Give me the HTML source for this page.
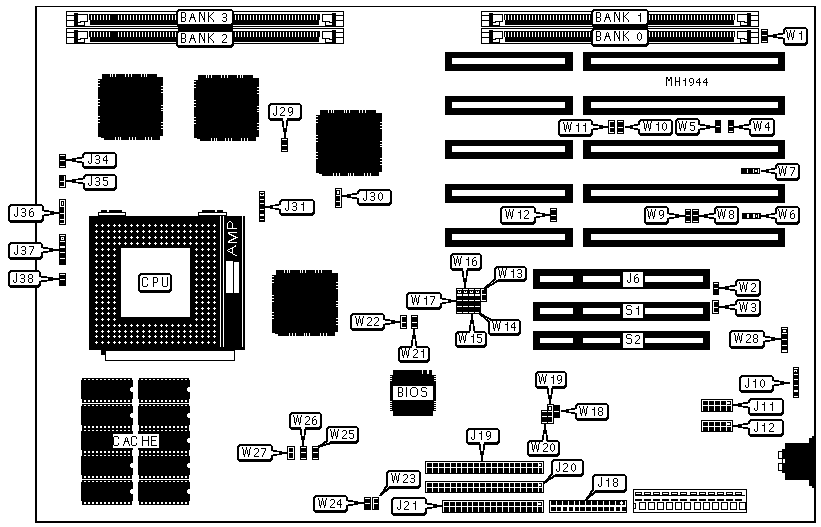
<!DOCTYPE html>
<html><head><meta charset="utf-8"><style>
html,body{margin:0;padding:0;background:#fff;overflow:hidden;font-family:"Liberation Sans", sans-serif;}
svg{display:block;}
</style></head><body>
<svg width="821" height="527" viewBox="0 0 821 527" shape-rendering="crispEdges">
<defs>
<pattern id="simmpins" x="0" y="0" width="3" height="5" patternUnits="userSpaceOnUse">
<rect x="1" y="0" width="1" height="5" fill="#fff"/>
</pattern>
<path id="g65" d="M3 1h1v1h-1zM2 2h1v1h-1zM4 2h1v1h-1zM2 3h1v1h-1zM4 3h1v1h-1zM2 4h1v1h-1zM4 4h1v1h-1zM1 5h5v1h-5zM1 6h1v1h-1zM5 6h1v1h-1zM1 7h1v1h-1zM5 7h1v1h-1zM0 8h1v1h-1zM6 8h1v1h-1zM0 9h1v1h-1zM6 9h1v1h-1z"/>
<path id="g66" d="M0 0h4v1h-4zM0 1h1v1h-1zM4 1h1v1h-1zM0 2h1v1h-1zM4 2h1v1h-1zM0 3h1v1h-1zM4 3h1v1h-1zM0 4h1v1h-1zM4 4h1v1h-1zM0 5h4v1h-4zM0 6h1v1h-1zM4 6h1v1h-1zM0 7h1v1h-1zM4 7h1v1h-1zM0 8h1v1h-1zM4 8h1v1h-1zM0 9h4v1h-4z"/>
<path id="g67" d="M1 0h4v1h-4zM0 1h1v1h-1zM5 1h1v1h-1zM0 2h1v1h-1zM5 2h1v1h-1zM0 3h1v1h-1zM0 4h1v1h-1zM0 5h1v1h-1zM0 6h1v1h-1zM0 7h1v1h-1zM5 7h1v1h-1zM0 8h1v1h-1zM5 8h1v1h-1zM1 9h4v1h-4z"/>
<path id="g69" d="M0 0h6v1h-6zM0 1h1v1h-1zM0 2h1v1h-1zM0 3h1v1h-1zM0 4h5v1h-5zM0 5h1v1h-1zM0 6h1v1h-1zM0 7h1v1h-1zM0 8h1v1h-1zM0 9h6v1h-6z"/>
<path id="g72" d="M0 0h1v1h-1zM6 0h1v1h-1zM0 1h1v1h-1zM6 1h1v1h-1zM0 2h1v1h-1zM6 2h1v1h-1zM0 3h1v1h-1zM6 3h1v1h-1zM0 4h7v1h-7zM0 5h1v1h-1zM6 5h1v1h-1zM0 6h1v1h-1zM6 6h1v1h-1zM0 7h1v1h-1zM6 7h1v1h-1zM0 8h1v1h-1zM6 8h1v1h-1zM0 9h1v1h-1zM6 9h1v1h-1z"/>
<path id="g73" d="M0 0h1v1h-1zM0 1h1v1h-1zM0 2h1v1h-1zM0 3h1v1h-1zM0 4h1v1h-1zM0 5h1v1h-1zM0 6h1v1h-1zM0 7h1v1h-1zM0 8h1v1h-1zM0 9h1v1h-1z"/>
<path id="g74" d="M3 0h1v1h-1zM3 1h1v1h-1zM3 2h1v1h-1zM3 3h1v1h-1zM3 4h1v1h-1zM3 5h1v1h-1zM3 6h1v1h-1zM0 7h1v1h-1zM3 7h1v1h-1zM0 8h1v1h-1zM3 8h1v1h-1zM1 9h2v1h-2z"/>
<path id="g75" d="M0 0h1v1h-1zM5 0h1v1h-1zM0 1h1v1h-1zM4 1h1v1h-1zM0 2h1v1h-1zM3 2h1v1h-1zM0 3h1v1h-1zM2 3h1v1h-1zM0 4h2v1h-2zM0 5h1v1h-1zM2 5h1v1h-1zM0 6h1v1h-1zM3 6h1v1h-1zM0 7h1v1h-1zM4 7h1v1h-1zM0 8h1v1h-1zM5 8h1v1h-1zM0 9h1v1h-1zM5 9h1v1h-1z"/>
<path id="g77" d="M0 0h1v1h-1zM6 0h1v1h-1zM0 1h2v1h-2zM5 1h2v1h-2zM0 2h2v1h-2zM5 2h2v1h-2zM0 3h1v1h-1zM2 3h1v1h-1zM4 3h1v1h-1zM6 3h1v1h-1zM0 4h1v1h-1zM2 4h1v1h-1zM4 4h1v1h-1zM6 4h1v1h-1zM0 5h1v1h-1zM3 5h1v1h-1zM6 5h1v1h-1zM0 6h1v1h-1zM3 6h1v1h-1zM6 6h1v1h-1zM0 7h1v1h-1zM6 7h1v1h-1zM0 8h1v1h-1zM6 8h1v1h-1zM0 9h1v1h-1zM6 9h1v1h-1z"/>
<path id="g78" d="M0 0h2v1h-2zM5 0h1v1h-1zM0 1h2v1h-2zM5 1h1v1h-1zM0 2h1v1h-1zM2 2h1v1h-1zM5 2h1v1h-1zM0 3h1v1h-1zM2 3h1v1h-1zM5 3h1v1h-1zM0 4h1v1h-1zM3 4h1v1h-1zM5 4h1v1h-1zM0 5h1v1h-1zM3 5h1v1h-1zM5 5h1v1h-1zM0 6h1v1h-1zM4 6h2v1h-2zM0 7h1v1h-1zM4 7h2v1h-2zM0 8h1v1h-1zM5 8h1v1h-1zM0 9h1v1h-1zM5 9h1v1h-1z"/>
<path id="g79" d="M2 0h4v1h-4zM1 1h1v1h-1zM6 1h1v1h-1zM0 2h1v1h-1zM7 2h1v1h-1zM0 3h1v1h-1zM7 3h1v1h-1zM0 4h1v1h-1zM7 4h1v1h-1zM0 5h1v1h-1zM7 5h1v1h-1zM0 6h1v1h-1zM7 6h1v1h-1zM0 7h1v1h-1zM7 7h1v1h-1zM1 8h1v1h-1zM6 8h1v1h-1zM2 9h4v1h-4z"/>
<path id="g80" d="M0 0h4v1h-4zM0 1h1v1h-1zM4 1h1v1h-1zM0 2h1v1h-1zM4 2h1v1h-1zM0 3h1v1h-1zM4 3h1v1h-1zM0 4h1v1h-1zM4 4h1v1h-1zM0 5h4v1h-4zM0 6h1v1h-1zM0 7h1v1h-1zM0 8h1v1h-1zM0 9h1v1h-1z"/>
<path id="g83" d="M1 0h4v1h-4zM0 1h1v1h-1zM5 1h1v1h-1zM0 2h1v1h-1zM0 3h1v1h-1zM1 4h4v1h-4zM5 5h1v1h-1zM5 6h1v1h-1zM5 7h1v1h-1zM0 8h1v1h-1zM5 8h1v1h-1zM1 9h4v1h-4z"/>
<path id="g85" d="M0 0h1v1h-1zM5 0h1v1h-1zM0 1h1v1h-1zM5 1h1v1h-1zM0 2h1v1h-1zM5 2h1v1h-1zM0 3h1v1h-1zM5 3h1v1h-1zM0 4h1v1h-1zM5 4h1v1h-1zM0 5h1v1h-1zM5 5h1v1h-1zM0 6h1v1h-1zM5 6h1v1h-1zM0 7h1v1h-1zM5 7h1v1h-1zM0 8h1v1h-1zM5 8h1v1h-1zM1 9h4v1h-4z"/>
<path id="g87" d="M0 0h1v1h-1zM4 0h1v1h-1zM8 0h1v1h-1zM0 1h1v1h-1zM4 1h1v1h-1zM8 1h1v1h-1zM1 2h1v1h-1zM4 2h1v1h-1zM7 2h1v1h-1zM1 3h1v1h-1zM3 3h1v1h-1zM5 3h1v1h-1zM7 3h1v1h-1zM1 4h1v1h-1zM3 4h1v1h-1zM5 4h1v1h-1zM7 4h1v1h-1zM1 5h1v1h-1zM3 5h1v1h-1zM5 5h1v1h-1zM7 5h1v1h-1zM1 6h1v1h-1zM3 6h1v1h-1zM5 6h1v1h-1zM7 6h1v1h-1zM1 7h2v1h-2zM6 7h2v1h-2zM2 8h1v1h-1zM6 8h1v1h-1zM2 9h1v1h-1zM6 9h1v1h-1z"/>
<path id="g109" d="M0 0h2v1h-2zM4 0h2v1h-2zM0 1h2v1h-2zM4 1h2v1h-2zM0 2h1v1h-1zM2 2h2v1h-2zM5 2h1v1h-1zM0 3h1v1h-1zM2 3h2v1h-2zM5 3h1v1h-1zM0 4h1v1h-1zM5 4h1v1h-1zM0 5h1v1h-1zM5 5h1v1h-1zM0 6h1v1h-1zM5 6h1v1h-1zM0 7h1v1h-1zM5 7h1v1h-1zM0 8h1v1h-1zM5 8h1v1h-1zM0 9h1v1h-1zM5 9h1v1h-1z"/>
<path id="g104" d="M0 0h1v1h-1zM4 0h1v1h-1zM0 1h1v1h-1zM4 1h1v1h-1zM0 2h1v1h-1zM4 2h1v1h-1zM0 3h1v1h-1zM4 3h1v1h-1zM0 4h5v1h-5zM0 5h1v1h-1zM4 5h1v1h-1zM0 6h1v1h-1zM4 6h1v1h-1zM0 7h1v1h-1zM4 7h1v1h-1zM0 8h1v1h-1zM4 8h1v1h-1zM0 9h1v1h-1zM4 9h1v1h-1z"/>
<path id="g48" d="M2 1h1v1h-1zM1 2h1v1h-1zM3 2h1v1h-1zM0 3h1v1h-1zM4 3h1v1h-1zM0 4h1v1h-1zM4 4h1v1h-1zM0 5h1v1h-1zM4 5h1v1h-1zM0 6h1v1h-1zM4 6h1v1h-1zM0 7h1v1h-1zM4 7h1v1h-1zM1 8h1v1h-1zM3 8h1v1h-1zM2 9h1v1h-1z"/>
<path id="g49" d="M3 1h1v1h-1zM3 2h1v1h-1zM1 3h3v1h-3zM3 4h1v1h-1zM3 5h1v1h-1zM3 6h1v1h-1zM3 7h1v1h-1zM3 8h1v1h-1zM3 9h1v1h-1z"/>
<path id="g50" d="M1 1h3v1h-3zM0 2h1v1h-1zM4 2h1v1h-1zM4 3h1v1h-1zM4 4h1v1h-1zM3 5h1v1h-1zM2 6h1v1h-1zM1 7h1v1h-1zM0 8h1v1h-1zM0 9h5v1h-5z"/>
<path id="g51" d="M1 1h3v1h-3zM0 2h1v1h-1zM4 2h1v1h-1zM4 3h1v1h-1zM4 4h1v1h-1zM1 5h3v1h-3zM4 6h1v1h-1zM4 7h1v1h-1zM0 8h1v1h-1zM4 8h1v1h-1zM1 9h3v1h-3z"/>
<path id="g52" d="M3 1h1v1h-1zM2 2h2v1h-2zM1 3h1v1h-1zM3 3h1v1h-1zM0 4h1v1h-1zM3 4h1v1h-1zM0 5h1v1h-1zM3 5h1v1h-1zM0 6h5v1h-5zM3 7h1v1h-1zM3 8h1v1h-1zM3 9h1v1h-1z"/>
<path id="g53" d="M0 1h5v1h-5zM0 2h1v1h-1zM0 3h1v1h-1zM0 4h4v1h-4zM4 5h1v1h-1zM4 6h1v1h-1zM4 7h1v1h-1zM0 8h1v1h-1zM4 8h1v1h-1zM1 9h3v1h-3z"/>
<path id="g54" d="M2 1h2v1h-2zM1 2h1v1h-1zM0 3h1v1h-1zM0 4h1v1h-1zM2 4h2v1h-2zM0 5h2v1h-2zM4 5h1v1h-1zM0 6h1v1h-1zM4 6h1v1h-1zM0 7h1v1h-1zM4 7h1v1h-1zM0 8h1v1h-1zM4 8h1v1h-1zM1 9h3v1h-3z"/>
<path id="g55" d="M0 1h5v1h-5zM4 2h1v1h-1zM4 3h1v1h-1zM3 4h1v1h-1zM3 5h1v1h-1zM2 6h1v1h-1zM2 7h1v1h-1zM1 8h1v1h-1zM1 9h1v1h-1z"/>
<path id="g56" d="M1 1h3v1h-3zM0 2h1v1h-1zM4 2h1v1h-1zM0 3h1v1h-1zM4 3h1v1h-1zM0 4h1v1h-1zM4 4h1v1h-1zM1 5h3v1h-3zM0 6h1v1h-1zM4 6h1v1h-1zM0 7h1v1h-1zM4 7h1v1h-1zM0 8h1v1h-1zM4 8h1v1h-1zM1 9h3v1h-3z"/>
<path id="g57" d="M1 1h3v1h-3zM0 2h1v1h-1zM4 2h1v1h-1zM0 3h1v1h-1zM4 3h1v1h-1zM0 4h1v1h-1zM4 4h1v1h-1zM0 5h1v1h-1zM3 5h2v1h-2zM1 6h2v1h-2zM4 6h1v1h-1zM4 7h1v1h-1zM3 8h1v1h-1zM1 9h2v1h-2z"/>
</defs>
<rect width="821" height="527" fill="#fff"/>
<rect x="35" y="6" width="781" height="1"/>
<rect x="35" y="6" width="2" height="517"/>
<rect x="814" y="6" width="2" height="517"/>
<rect x="35" y="521" width="781" height="2"/>
<rect x="66" y="11" width="278" height="16"/>
<rect x="67" y="12" width="276" height="14" fill="#fff"/>
<rect x="67" y="15" width="7" height="1"/>
<rect x="67" y="20" width="7" height="1"/>
<rect x="74" y="13" width="4" height="13"/>
<rect x="78" y="14" width="10" height="1"/>
<rect x="87" y="14" width="1" height="8"/>
<rect x="80" y="21" width="8" height="1"/>
<rect x="80" y="21" width="1" height="2"/>
<rect x="78" y="22" width="3" height="1"/>
<rect x="84" y="21" width="1" height="5"/>
<rect x="78" y="25" width="7" height="1"/>
<rect x="89" y="14" width="231" height="6"/>
<rect x="90" y="20" width="229" height="5"/>
<rect x="90" y="15" width="229" height="5" fill="url(#simmpins)"/>
<rect x="322" y="14" width="10" height="1"/>
<rect x="322" y="14" width="1" height="8"/>
<rect x="322" y="21" width="8" height="1"/>
<rect x="329" y="21" width="1" height="2"/>
<rect x="329" y="22" width="3" height="1"/>
<rect x="325" y="21" width="1" height="5"/>
<rect x="325" y="25" width="7" height="1"/>
<rect x="332" y="13" width="4" height="13"/>
<rect x="336" y="15" width="7" height="1"/>
<rect x="336" y="20" width="7" height="1"/>
<rect x="66" y="28" width="278" height="16"/>
<rect x="67" y="29" width="276" height="14" fill="#fff"/>
<rect x="67" y="32" width="7" height="1"/>
<rect x="67" y="37" width="7" height="1"/>
<rect x="74" y="30" width="4" height="13"/>
<rect x="78" y="31" width="10" height="1"/>
<rect x="87" y="31" width="1" height="8"/>
<rect x="80" y="38" width="8" height="1"/>
<rect x="80" y="38" width="1" height="2"/>
<rect x="78" y="39" width="3" height="1"/>
<rect x="84" y="38" width="1" height="5"/>
<rect x="78" y="42" width="7" height="1"/>
<rect x="89" y="31" width="231" height="6"/>
<rect x="90" y="37" width="229" height="5"/>
<rect x="90" y="32" width="229" height="5" fill="url(#simmpins)"/>
<rect x="322" y="31" width="10" height="1"/>
<rect x="322" y="31" width="1" height="8"/>
<rect x="322" y="38" width="8" height="1"/>
<rect x="329" y="38" width="1" height="2"/>
<rect x="329" y="39" width="3" height="1"/>
<rect x="325" y="38" width="1" height="5"/>
<rect x="325" y="42" width="7" height="1"/>
<rect x="332" y="30" width="4" height="13"/>
<rect x="336" y="32" width="7" height="1"/>
<rect x="336" y="37" width="7" height="1"/>
<rect x="112" y="15" width="4" height="5"/>
<rect x="112" y="32" width="4" height="5"/>
<rect x="481" y="11" width="278" height="16"/>
<rect x="482" y="12" width="276" height="14" fill="#fff"/>
<rect x="482" y="15" width="7" height="1"/>
<rect x="482" y="20" width="7" height="1"/>
<rect x="489" y="13" width="4" height="13"/>
<rect x="493" y="14" width="10" height="1"/>
<rect x="502" y="14" width="1" height="8"/>
<rect x="495" y="21" width="8" height="1"/>
<rect x="495" y="21" width="1" height="2"/>
<rect x="493" y="22" width="3" height="1"/>
<rect x="499" y="21" width="1" height="5"/>
<rect x="493" y="25" width="7" height="1"/>
<rect x="504" y="14" width="231" height="6"/>
<rect x="505" y="20" width="229" height="5"/>
<rect x="505" y="15" width="229" height="5" fill="url(#simmpins)"/>
<rect x="737" y="14" width="10" height="1"/>
<rect x="737" y="14" width="1" height="8"/>
<rect x="737" y="21" width="8" height="1"/>
<rect x="744" y="21" width="1" height="2"/>
<rect x="744" y="22" width="3" height="1"/>
<rect x="740" y="21" width="1" height="5"/>
<rect x="740" y="25" width="7" height="1"/>
<rect x="747" y="13" width="4" height="13"/>
<rect x="751" y="15" width="7" height="1"/>
<rect x="751" y="20" width="7" height="1"/>
<rect x="481" y="28" width="278" height="16"/>
<rect x="482" y="29" width="276" height="14" fill="#fff"/>
<rect x="482" y="32" width="7" height="1"/>
<rect x="482" y="37" width="7" height="1"/>
<rect x="489" y="30" width="4" height="13"/>
<rect x="493" y="31" width="10" height="1"/>
<rect x="502" y="31" width="1" height="8"/>
<rect x="495" y="38" width="8" height="1"/>
<rect x="495" y="38" width="1" height="2"/>
<rect x="493" y="39" width="3" height="1"/>
<rect x="499" y="38" width="1" height="5"/>
<rect x="493" y="42" width="7" height="1"/>
<rect x="504" y="31" width="231" height="6"/>
<rect x="505" y="37" width="229" height="5"/>
<rect x="505" y="32" width="229" height="5" fill="url(#simmpins)"/>
<rect x="737" y="31" width="10" height="1"/>
<rect x="737" y="31" width="1" height="8"/>
<rect x="737" y="38" width="8" height="1"/>
<rect x="744" y="38" width="1" height="2"/>
<rect x="744" y="39" width="3" height="1"/>
<rect x="740" y="38" width="1" height="5"/>
<rect x="740" y="42" width="7" height="1"/>
<rect x="747" y="30" width="4" height="13"/>
<rect x="751" y="32" width="7" height="1"/>
<rect x="751" y="37" width="7" height="1"/>
<rect x="178" y="24" width="55" height="8"/>
<rect x="176" y="9" width="58" height="18" rx="4"/>
<rect x="178" y="11" width="54" height="13" rx="2" fill="#fff"/>
<use href="#g66" x="181" y="12"/><use href="#g65" x="189" y="12"/><use href="#g78" x="199" y="12"/><use href="#g75" x="208" y="12"/><use href="#g51" x="222" y="12"/>
<rect x="176" y="30" width="58" height="18" rx="4"/>
<rect x="178" y="32" width="54" height="13" rx="2" fill="#fff"/>
<use href="#g66" x="181" y="33"/><use href="#g65" x="189" y="33"/><use href="#g78" x="199" y="33"/><use href="#g75" x="208" y="33"/><use href="#g50" x="222" y="33"/>
<rect x="593" y="24" width="55" height="8"/>
<rect x="591" y="9" width="58" height="18" rx="4"/>
<rect x="593" y="11" width="54" height="13" rx="2" fill="#fff"/>
<use href="#g66" x="596" y="12"/><use href="#g65" x="604" y="12"/><use href="#g78" x="614" y="12"/><use href="#g75" x="623" y="12"/><use href="#g49" x="637" y="12"/>
<rect x="591" y="28" width="58" height="19" rx="4"/>
<rect x="593" y="30" width="54" height="14" rx="2" fill="#fff"/>
<use href="#g66" x="596" y="31"/><use href="#g65" x="604" y="31"/><use href="#g78" x="614" y="31"/><use href="#g75" x="623" y="31"/><use href="#g48" x="637" y="31"/>
<rect x="761" y="29" width="7" height="14"/>
<rect x="762" y="30" width="5" height="1" fill="#fff"/>
<rect x="762" y="35" width="5" height="1" fill="#fff"/>
<rect x="762" y="41" width="5" height="1" fill="#fff"/>
<rect x="783" y="27" width="25" height="19" rx="4"/>
<polygon points="786,32.5 783,32.5 771,35 768,35 768,37 771,37 783,39.5 786,39.5"/>
<rect x="785" y="29" width="21" height="14" rx="2" fill="#fff"/>
<polygon points="786,34 774,36 786,38" fill="#fff"/>
<use href="#g87" x="786" y="30"/><use href="#g49" x="798" y="30"/>
<rect x="98" y="79" width="65" height="57"/>
<rect x="102" y="74" width="55" height="5"/>
<rect x="102" y="77" width="61" height="2"/>
<rect x="101" y="136" width="59" height="2"/>
<rect x="104" y="138" width="56" height="2"/>
<rect x="98" y="136" width="3" height="1"/>
<rect x="110" y="74" width="1" height="3" fill="#fff"/>
<rect x="112" y="74" width="1" height="3" fill="#fff"/>
<rect x="115" y="74" width="1" height="3" fill="#fff"/>
<rect x="125" y="74" width="1" height="3" fill="#fff"/>
<rect x="128" y="74" width="1" height="3" fill="#fff"/>
<rect x="131" y="74" width="1" height="3" fill="#fff"/>
<rect x="141" y="74" width="1" height="3" fill="#fff"/>
<rect x="144" y="74" width="1" height="3" fill="#fff"/>
<rect x="146" y="74" width="1" height="3" fill="#fff"/>
<rect x="115" y="137" width="1" height="3" fill="#fff"/>
<rect x="118" y="137" width="1" height="3" fill="#fff"/>
<rect x="120" y="137" width="1" height="3" fill="#fff"/>
<rect x="129" y="137" width="1" height="3" fill="#fff"/>
<rect x="132" y="137" width="1" height="3" fill="#fff"/>
<rect x="135" y="137" width="1" height="3" fill="#fff"/>
<rect x="145" y="137" width="1" height="3" fill="#fff"/>
<rect x="148" y="137" width="1" height="3" fill="#fff"/>
<rect x="151" y="137" width="1" height="3" fill="#fff"/>
<rect x="98" y="80" width="2" height="1" fill="#fff"/>
<rect x="98" y="83" width="2" height="1" fill="#fff"/>
<rect x="98" y="86" width="2" height="1" fill="#fff"/>
<rect x="98" y="99" width="2" height="1" fill="#fff"/>
<rect x="98" y="102" width="2" height="1" fill="#fff"/>
<rect x="98" y="105" width="2" height="1" fill="#fff"/>
<rect x="98" y="116" width="2" height="1" fill="#fff"/>
<rect x="98" y="119" width="2" height="1" fill="#fff"/>
<rect x="98" y="122" width="2" height="1" fill="#fff"/>
<rect x="161" y="86" width="2" height="1" fill="#fff"/>
<rect x="161" y="89" width="2" height="1" fill="#fff"/>
<rect x="161" y="92" width="2" height="1" fill="#fff"/>
<rect x="161" y="105" width="2" height="1" fill="#fff"/>
<rect x="161" y="108" width="2" height="1" fill="#fff"/>
<rect x="161" y="110" width="2" height="1" fill="#fff"/>
<rect x="161" y="122" width="2" height="1" fill="#fff"/>
<rect x="161" y="125" width="2" height="1" fill="#fff"/>
<rect x="161" y="128" width="2" height="1" fill="#fff"/>
<rect x="194" y="80" width="65" height="57"/>
<rect x="198" y="75" width="55" height="5"/>
<rect x="198" y="78" width="61" height="2"/>
<rect x="197" y="137" width="59" height="2"/>
<rect x="200" y="139" width="56" height="2"/>
<rect x="194" y="137" width="3" height="1"/>
<rect x="206" y="75" width="1" height="3" fill="#fff"/>
<rect x="208" y="75" width="1" height="3" fill="#fff"/>
<rect x="211" y="75" width="1" height="3" fill="#fff"/>
<rect x="221" y="75" width="1" height="3" fill="#fff"/>
<rect x="224" y="75" width="1" height="3" fill="#fff"/>
<rect x="227" y="75" width="1" height="3" fill="#fff"/>
<rect x="237" y="75" width="1" height="3" fill="#fff"/>
<rect x="240" y="75" width="1" height="3" fill="#fff"/>
<rect x="242" y="75" width="1" height="3" fill="#fff"/>
<rect x="211" y="138" width="1" height="3" fill="#fff"/>
<rect x="214" y="138" width="1" height="3" fill="#fff"/>
<rect x="216" y="138" width="1" height="3" fill="#fff"/>
<rect x="225" y="138" width="1" height="3" fill="#fff"/>
<rect x="228" y="138" width="1" height="3" fill="#fff"/>
<rect x="231" y="138" width="1" height="3" fill="#fff"/>
<rect x="241" y="138" width="1" height="3" fill="#fff"/>
<rect x="244" y="138" width="1" height="3" fill="#fff"/>
<rect x="247" y="138" width="1" height="3" fill="#fff"/>
<rect x="194" y="81" width="2" height="1" fill="#fff"/>
<rect x="194" y="84" width="2" height="1" fill="#fff"/>
<rect x="194" y="87" width="2" height="1" fill="#fff"/>
<rect x="194" y="100" width="2" height="1" fill="#fff"/>
<rect x="194" y="103" width="2" height="1" fill="#fff"/>
<rect x="194" y="106" width="2" height="1" fill="#fff"/>
<rect x="194" y="117" width="2" height="1" fill="#fff"/>
<rect x="194" y="120" width="2" height="1" fill="#fff"/>
<rect x="194" y="123" width="2" height="1" fill="#fff"/>
<rect x="257" y="87" width="2" height="1" fill="#fff"/>
<rect x="257" y="90" width="2" height="1" fill="#fff"/>
<rect x="257" y="93" width="2" height="1" fill="#fff"/>
<rect x="257" y="106" width="2" height="1" fill="#fff"/>
<rect x="257" y="109" width="2" height="1" fill="#fff"/>
<rect x="257" y="111" width="2" height="1" fill="#fff"/>
<rect x="257" y="123" width="2" height="1" fill="#fff"/>
<rect x="257" y="126" width="2" height="1" fill="#fff"/>
<rect x="257" y="129" width="2" height="1" fill="#fff"/>
<rect x="316" y="115" width="66" height="57"/>
<rect x="320" y="110" width="56" height="5"/>
<rect x="320" y="113" width="62" height="2"/>
<rect x="319" y="172" width="60" height="2"/>
<rect x="322" y="174" width="57" height="2"/>
<rect x="316" y="172" width="3" height="1"/>
<rect x="328" y="110" width="1" height="3" fill="#fff"/>
<rect x="331" y="110" width="1" height="3" fill="#fff"/>
<rect x="333" y="110" width="1" height="3" fill="#fff"/>
<rect x="344" y="110" width="1" height="3" fill="#fff"/>
<rect x="346" y="110" width="1" height="3" fill="#fff"/>
<rect x="349" y="110" width="1" height="3" fill="#fff"/>
<rect x="359" y="110" width="1" height="3" fill="#fff"/>
<rect x="362" y="110" width="1" height="3" fill="#fff"/>
<rect x="365" y="110" width="1" height="3" fill="#fff"/>
<rect x="333" y="173" width="1" height="3" fill="#fff"/>
<rect x="336" y="173" width="1" height="3" fill="#fff"/>
<rect x="339" y="173" width="1" height="3" fill="#fff"/>
<rect x="348" y="173" width="1" height="3" fill="#fff"/>
<rect x="350" y="173" width="1" height="3" fill="#fff"/>
<rect x="353" y="173" width="1" height="3" fill="#fff"/>
<rect x="364" y="173" width="1" height="3" fill="#fff"/>
<rect x="367" y="173" width="1" height="3" fill="#fff"/>
<rect x="370" y="173" width="1" height="3" fill="#fff"/>
<rect x="316" y="116" width="2" height="1" fill="#fff"/>
<rect x="316" y="119" width="2" height="1" fill="#fff"/>
<rect x="316" y="122" width="2" height="1" fill="#fff"/>
<rect x="316" y="135" width="2" height="1" fill="#fff"/>
<rect x="316" y="138" width="2" height="1" fill="#fff"/>
<rect x="316" y="141" width="2" height="1" fill="#fff"/>
<rect x="316" y="152" width="2" height="1" fill="#fff"/>
<rect x="316" y="155" width="2" height="1" fill="#fff"/>
<rect x="316" y="158" width="2" height="1" fill="#fff"/>
<rect x="380" y="122" width="2" height="1" fill="#fff"/>
<rect x="380" y="125" width="2" height="1" fill="#fff"/>
<rect x="380" y="128" width="2" height="1" fill="#fff"/>
<rect x="380" y="141" width="2" height="1" fill="#fff"/>
<rect x="380" y="144" width="2" height="1" fill="#fff"/>
<rect x="380" y="146" width="2" height="1" fill="#fff"/>
<rect x="380" y="158" width="2" height="1" fill="#fff"/>
<rect x="380" y="161" width="2" height="1" fill="#fff"/>
<rect x="380" y="164" width="2" height="1" fill="#fff"/>
<rect x="272" y="275" width="66" height="57"/>
<rect x="276" y="270" width="56" height="5"/>
<rect x="276" y="273" width="62" height="2"/>
<rect x="275" y="332" width="60" height="2"/>
<rect x="278" y="334" width="57" height="2"/>
<rect x="272" y="332" width="3" height="1"/>
<rect x="284" y="270" width="1" height="3" fill="#fff"/>
<rect x="287" y="270" width="1" height="3" fill="#fff"/>
<rect x="289" y="270" width="1" height="3" fill="#fff"/>
<rect x="300" y="270" width="1" height="3" fill="#fff"/>
<rect x="302" y="270" width="1" height="3" fill="#fff"/>
<rect x="305" y="270" width="1" height="3" fill="#fff"/>
<rect x="315" y="270" width="1" height="3" fill="#fff"/>
<rect x="318" y="270" width="1" height="3" fill="#fff"/>
<rect x="321" y="270" width="1" height="3" fill="#fff"/>
<rect x="289" y="333" width="1" height="3" fill="#fff"/>
<rect x="292" y="333" width="1" height="3" fill="#fff"/>
<rect x="295" y="333" width="1" height="3" fill="#fff"/>
<rect x="304" y="333" width="1" height="3" fill="#fff"/>
<rect x="306" y="333" width="1" height="3" fill="#fff"/>
<rect x="309" y="333" width="1" height="3" fill="#fff"/>
<rect x="320" y="333" width="1" height="3" fill="#fff"/>
<rect x="323" y="333" width="1" height="3" fill="#fff"/>
<rect x="326" y="333" width="1" height="3" fill="#fff"/>
<rect x="272" y="276" width="2" height="1" fill="#fff"/>
<rect x="272" y="279" width="2" height="1" fill="#fff"/>
<rect x="272" y="282" width="2" height="1" fill="#fff"/>
<rect x="272" y="295" width="2" height="1" fill="#fff"/>
<rect x="272" y="298" width="2" height="1" fill="#fff"/>
<rect x="272" y="301" width="2" height="1" fill="#fff"/>
<rect x="272" y="312" width="2" height="1" fill="#fff"/>
<rect x="272" y="315" width="2" height="1" fill="#fff"/>
<rect x="272" y="318" width="2" height="1" fill="#fff"/>
<rect x="336" y="282" width="2" height="1" fill="#fff"/>
<rect x="336" y="285" width="2" height="1" fill="#fff"/>
<rect x="336" y="288" width="2" height="1" fill="#fff"/>
<rect x="336" y="301" width="2" height="1" fill="#fff"/>
<rect x="336" y="304" width="2" height="1" fill="#fff"/>
<rect x="336" y="306" width="2" height="1" fill="#fff"/>
<rect x="336" y="318" width="2" height="1" fill="#fff"/>
<rect x="336" y="321" width="2" height="1" fill="#fff"/>
<rect x="336" y="324" width="2" height="1" fill="#fff"/>
<rect x="445" y="52" width="128" height="19"/>
<rect x="452" y="58" width="113" height="6" fill="#fff"/>
<rect x="583" y="52" width="202" height="19"/>
<rect x="591" y="58" width="187" height="6" fill="#fff"/>
<rect x="445" y="96" width="128" height="19"/>
<rect x="452" y="102" width="113" height="6" fill="#fff"/>
<rect x="583" y="96" width="202" height="19"/>
<rect x="591" y="102" width="187" height="6" fill="#fff"/>
<rect x="445" y="140" width="128" height="19"/>
<rect x="452" y="146" width="113" height="6" fill="#fff"/>
<rect x="583" y="140" width="202" height="19"/>
<rect x="591" y="146" width="187" height="6" fill="#fff"/>
<rect x="445" y="184" width="128" height="19"/>
<rect x="452" y="190" width="113" height="6" fill="#fff"/>
<rect x="583" y="184" width="202" height="19"/>
<rect x="591" y="190" width="187" height="6" fill="#fff"/>
<rect x="445" y="228" width="128" height="19"/>
<rect x="452" y="234" width="113" height="6" fill="#fff"/>
<rect x="583" y="228" width="202" height="19"/>
<rect x="591" y="234" width="187" height="6" fill="#fff"/>
<g transform="translate(0,77) scale(1,0.9)"><use href="#g109" x="666" y="0"/><use href="#g104" x="675" y="0"/><use href="#g49" x="682" y="0"/><use href="#g57" x="689" y="0"/><use href="#g52" x="696" y="0"/><use href="#g52" x="703" y="0"/></g>
<rect x="608" y="120" width="7" height="14"/>
<rect x="609" y="121" width="1" height="12" fill="#fff"/>
<rect x="609" y="121" width="5" height="1" fill="#fff"/>
<rect x="609" y="127" width="5" height="1" fill="#fff"/>
<rect x="609" y="132" width="5" height="1" fill="#fff"/>
<rect x="617" y="120" width="7" height="14"/>
<rect x="618" y="121" width="5" height="1" fill="#fff"/>
<rect x="618" y="127" width="5" height="1" fill="#fff"/>
<rect x="618" y="132" width="5" height="1" fill="#fff"/>
<rect x="558" y="119" width="35" height="18" rx="4"/>
<polygon points="590,123.5 593,123.5 605,126 608,126 608,128 605,128 593,130.5 590,130.5"/>
<rect x="560" y="121" width="31" height="13" rx="2" fill="#fff"/>
<polygon points="590,125 602,127 590,129" fill="#fff"/>
<use href="#g87" x="563" y="122"/><use href="#g49" x="575" y="122"/><use href="#g49" x="582" y="122"/>
<rect x="638" y="119" width="35" height="17" rx="4"/>
<polygon points="641,123.5 638,123.5 627.6,126 625,126 625,128 627.6,128 638,130.5 641,130.5"/>
<rect x="640" y="121" width="31" height="12" rx="2" fill="#fff"/>
<polygon points="641,125 630.2,127 641,129" fill="#fff"/>
<use href="#g87" x="643" y="121"/><use href="#g49" x="655" y="121"/><use href="#g48" x="662" y="121"/>
<rect x="675" y="118" width="25" height="18" rx="4"/>
<polygon points="697,123.5 700,123.5 712,126 715,126 715,128 712,128 700,130.5 697,130.5"/>
<rect x="677" y="120" width="21" height="13" rx="2" fill="#fff"/>
<polygon points="697,125 709,127 697,129" fill="#fff"/>
<use href="#g87" x="678" y="121"/><use href="#g53" x="690" y="121"/>
<rect x="715" y="120" width="6" height="13"/>
<rect x="716" y="126" width="4" height="1" fill="#fff"/>
<rect x="728" y="120" width="6" height="13"/>
<rect x="729" y="126" width="4" height="1" fill="#fff"/>
<rect x="729" y="131" width="4" height="1" fill="#fff"/>
<rect x="749" y="118" width="26" height="19" rx="4"/>
<polygon points="752,123.5 749,123.5 737,126 734,126 734,128 737,128 749,130.5 752,130.5"/>
<rect x="751" y="120" width="22" height="14" rx="2" fill="#fff"/>
<polygon points="752,125 740,127 752,129" fill="#fff"/>
<use href="#g87" x="753" y="121"/><use href="#g52" x="765" y="121"/>
<rect x="741" y="168" width="19" height="6"/>
<rect x="747" y="169" width="1" height="4" fill="#fff"/>
<rect x="753" y="169" width="1" height="4" fill="#fff"/>
<rect x="758" y="169" width="1" height="4" fill="#fff"/>
<rect x="755" y="170" width="2" height="2" fill="#fff"/>
<rect x="775" y="163" width="25" height="18" rx="4"/>
<polygon points="778,167.5 775,167.5 763.8,170 761,170 761,172 763.8,172 775,174.5 778,174.5"/>
<rect x="777" y="165" width="21" height="13" rx="2" fill="#fff"/>
<polygon points="778,169 766.6,171 778,173" fill="#fff"/>
<use href="#g87" x="778" y="166"/><use href="#g55" x="790" y="166"/>
<rect x="550" y="208" width="7" height="14"/>
<rect x="551" y="209" width="5" height="1" fill="#fff"/>
<rect x="551" y="215" width="5" height="1" fill="#fff"/>
<rect x="551" y="220" width="5" height="1" fill="#fff"/>
<rect x="500" y="206" width="36" height="19" rx="4"/>
<polygon points="533,211.5 536,211.5 547.2,214 550,214 550,216 547.2,216 536,218.5 533,218.5"/>
<rect x="502" y="208" width="32" height="14" rx="2" fill="#fff"/>
<polygon points="533,213 544.4,215 533,217" fill="#fff"/>
<use href="#g87" x="505" y="209"/><use href="#g49" x="517" y="209"/><use href="#g50" x="524" y="209"/>
<rect x="685" y="209" width="6" height="14"/>
<rect x="686" y="210" width="4" height="1" fill="#fff"/>
<rect x="686" y="215" width="4" height="1" fill="#fff"/>
<rect x="686" y="221" width="4" height="1" fill="#fff"/>
<rect x="692" y="209" width="7" height="14"/>
<rect x="693" y="210" width="5" height="1" fill="#fff"/>
<rect x="693" y="215" width="5" height="1" fill="#fff"/>
<rect x="693" y="221" width="5" height="1" fill="#fff"/>
<rect x="644" y="206" width="25" height="19" rx="4"/>
<polygon points="666,212.5 669,212.5 681.8,215 685,215 685,217 681.8,217 669,219.5 666,219.5"/>
<rect x="646" y="208" width="21" height="14" rx="2" fill="#fff"/>
<polygon points="666,214 678.6,216 666,218" fill="#fff"/>
<use href="#g87" x="647" y="209"/><use href="#g57" x="659" y="209"/>
<rect x="714" y="206" width="25" height="19" rx="4"/>
<polygon points="717,212.5 714,212.5 702,215 699,215 699,217 702,217 714,219.5 717,219.5"/>
<rect x="716" y="208" width="21" height="14" rx="2" fill="#fff"/>
<polygon points="717,214 705,216 717,218" fill="#fff"/>
<use href="#g87" x="717" y="209"/><use href="#g56" x="729" y="209"/>
<rect x="742" y="213" width="19" height="6"/>
<rect x="747" y="214" width="2" height="4" fill="#fff"/>
<rect x="753" y="214" width="2" height="4" fill="#fff"/>
<rect x="758" y="214" width="1" height="4" fill="#fff"/>
<rect x="756" y="215" width="1" height="2" fill="#fff"/>
<rect x="775" y="206" width="25" height="19" rx="4"/>
<polygon points="778,212.5 775,212.5 763.8,215 761,215 761,217 763.8,217 775,219.5 778,219.5"/>
<rect x="777" y="208" width="21" height="14" rx="2" fill="#fff"/>
<polygon points="778,214 766.6,216 778,218" fill="#fff"/>
<use href="#g87" x="778" y="209"/><use href="#g54" x="790" y="209"/>
<rect x="533" y="269" width="177" height="20"/>
<rect x="540" y="276" width="33" height="6" fill="#fff"/>
<rect x="583" y="276" width="37" height="6" fill="#fff"/>
<rect x="645" y="276" width="58" height="6" fill="#fff"/>
<rect x="623" y="272" width="20" height="15" rx="1.5" fill="#fff"/>
<use href="#g74" x="627" y="273"/><use href="#g54" x="634" y="273"/>
<rect x="533" y="302" width="177" height="19"/>
<rect x="540" y="308" width="33" height="6" fill="#fff"/>
<rect x="583" y="308" width="37" height="6" fill="#fff"/>
<rect x="645" y="308" width="58" height="6" fill="#fff"/>
<rect x="623" y="304" width="20" height="14" rx="1.5" fill="#fff"/>
<use href="#g83" x="626" y="305"/><use href="#g49" x="635" y="305"/>
<rect x="533" y="331" width="177" height="19"/>
<rect x="540" y="338" width="33" height="5" fill="#fff"/>
<rect x="583" y="338" width="37" height="5" fill="#fff"/>
<rect x="645" y="338" width="58" height="5" fill="#fff"/>
<rect x="623" y="333" width="20" height="15" rx="1.5" fill="#fff"/>
<use href="#g83" x="626" y="334"/><use href="#g50" x="635" y="334"/>
<rect x="713" y="282" width="6" height="13"/>
<rect x="714" y="283" width="4" height="1" fill="#fff"/>
<rect x="714" y="288" width="4" height="1" fill="#fff"/>
<rect x="735" y="279" width="26" height="18" rx="4"/>
<polygon points="738,284.5 735,284.5 722.2,287 719,287 719,289 722.2,289 735,291.5 738,291.5"/>
<rect x="737" y="281" width="22" height="13" rx="2" fill="#fff"/>
<polygon points="738,286 725.4,288 738,290" fill="#fff"/>
<use href="#g87" x="739" y="282"/><use href="#g50" x="751" y="282"/>
<rect x="712" y="300" width="7" height="14"/>
<rect x="713" y="301" width="1" height="12" fill="#fff"/>
<rect x="713" y="301" width="5" height="1" fill="#fff"/>
<rect x="713" y="307" width="5" height="1" fill="#fff"/>
<rect x="713" y="312" width="5" height="1" fill="#fff"/>
<rect x="735" y="299" width="26" height="18" rx="4"/>
<polygon points="738,303.5 735,303.5 722.2,306 719,306 719,308 722.2,308 735,310.5 738,310.5"/>
<rect x="737" y="301" width="22" height="13" rx="2" fill="#fff"/>
<polygon points="738,305 725.4,307 738,309" fill="#fff"/>
<use href="#g87" x="739" y="302"/><use href="#g51" x="751" y="302"/>
<rect x="781" y="327" width="7" height="26"/>
<rect x="782" y="328" width="5" height="1" fill="#fff"/>
<rect x="782" y="333" width="5" height="1" fill="#fff"/>
<rect x="782" y="339" width="5" height="1" fill="#fff"/>
<rect x="782" y="345" width="5" height="1" fill="#fff"/>
<rect x="782" y="350" width="5" height="1" fill="#fff"/>
<rect x="782" y="351" width="5" height="1" fill="#fff"/>
<rect x="783" y="330" width="3" height="2" fill="#fff"/>
<rect x="729" y="330" width="36" height="19" rx="4"/>
<polygon points="762,335.5 765,335.5 777.8,338 781,338 781,340 777.8,340 765,342.5 762,342.5"/>
<rect x="731" y="332" width="32" height="14" rx="2" fill="#fff"/>
<polygon points="762,337 774.6,339 762,341" fill="#fff"/>
<use href="#g87" x="734" y="333"/><use href="#g50" x="746" y="333"/><use href="#g56" x="753" y="333"/>
<rect x="793" y="367" width="6" height="31"/>
<rect x="794" y="368" width="4" height="1" fill="#fff"/>
<rect x="794" y="374" width="4" height="1" fill="#fff"/>
<rect x="794" y="379" width="4" height="1" fill="#fff"/>
<rect x="794" y="385" width="4" height="1" fill="#fff"/>
<rect x="794" y="390" width="4" height="1" fill="#fff"/>
<rect x="794" y="391" width="4" height="1" fill="#fff"/>
<rect x="794" y="396" width="4" height="1" fill="#fff"/>
<rect x="794" y="370" width="3" height="2" fill="#fff"/>
<rect x="795" y="371" width="1" height="1"/>
<rect x="739" y="375" width="35" height="18" rx="4"/>
<polygon points="771,379.5 774,379.5 786.8,382 790,382 790,384 786.8,384 774,386.5 771,386.5"/>
<rect x="741" y="377" width="31" height="13" rx="2" fill="#fff"/>
<polygon points="771,381 783.6,383 771,385" fill="#fff"/>
<use href="#g74" x="745" y="378"/><use href="#g49" x="752" y="378"/><use href="#g48" x="760" y="378"/>
<rect x="701" y="399" width="32" height="13"/>
<rect x="702" y="400" width="30" height="11" fill="#fff"/>
<rect x="703" y="401" width="28" height="10"/>
<rect x="703" y="405" width="28" height="1" fill="#fff"/>
<rect x="708" y="401" width="1" height="10" fill="#fff"/>
<rect x="714" y="401" width="1" height="10" fill="#fff"/>
<rect x="720" y="401" width="1" height="10" fill="#fff"/>
<rect x="726" y="401" width="1" height="10" fill="#fff"/>
<rect x="727" y="402" width="3" height="2" fill="#fff"/>
<rect x="748" y="398" width="36" height="18" rx="4"/>
<polygon points="751,401.5 748,401.5 736,404 733,404 733,406 736,406 748,408.5 751,408.5"/>
<rect x="750" y="400" width="32" height="13" rx="2" fill="#fff"/>
<polygon points="751,403 739,405 751,407" fill="#fff"/>
<use href="#g74" x="754" y="401"/><use href="#g49" x="761" y="401"/><use href="#g49" x="769" y="401"/>
<rect x="701" y="420" width="32" height="12"/>
<rect x="702" y="421" width="30" height="10" fill="#fff"/>
<rect x="703" y="422" width="28" height="9"/>
<rect x="703" y="426" width="28" height="1" fill="#fff"/>
<rect x="708" y="422" width="1" height="9" fill="#fff"/>
<rect x="714" y="422" width="1" height="9" fill="#fff"/>
<rect x="720" y="422" width="1" height="9" fill="#fff"/>
<rect x="726" y="422" width="1" height="9" fill="#fff"/>
<rect x="727" y="423" width="3" height="2" fill="#fff"/>
<rect x="748" y="419" width="36" height="18" rx="4"/>
<polygon points="751,422.5 748,422.5 736,425 733,425 733,427 736,427 748,429.5 751,429.5"/>
<rect x="750" y="421" width="32" height="13" rx="2" fill="#fff"/>
<polygon points="751,424 739,426 751,428" fill="#fff"/>
<use href="#g74" x="754" y="422"/><use href="#g49" x="761" y="422"/><use href="#g50" x="769" y="422"/>
<rect x="785" y="443" width="29" height="37"/>
<rect x="812" y="436" width="2" height="2"/>
<rect x="809" y="438" width="5" height="48"/>
<rect x="812" y="486" width="2" height="2"/>
<rect x="782" y="449" width="3" height="24"/>
<rect x="783" y="459" width="2" height="4" fill="#fff"/>
<rect x="778" y="451" width="5" height="8"/>
<rect x="779" y="452" width="3" height="6" fill="#fff"/>
<rect x="778" y="463" width="5" height="8"/>
<rect x="779" y="464" width="3" height="6" fill="#fff"/>
<rect x="59" y="154" width="7" height="14"/>
<rect x="60" y="155" width="5" height="1" fill="#fff"/>
<rect x="60" y="160" width="5" height="1" fill="#fff"/>
<rect x="60" y="166" width="5" height="1" fill="#fff"/>
<rect x="82" y="152" width="35" height="17" rx="4"/>
<polygon points="85,156.5 82,156.5 69.2,159 66,159 66,161 69.2,161 82,163.5 85,163.5"/>
<rect x="84" y="154" width="31" height="12" rx="2" fill="#fff"/>
<polygon points="85,158 72.4,160 85,162" fill="#fff"/>
<use href="#g74" x="88" y="154"/><use href="#g51" x="95" y="154"/><use href="#g52" x="103" y="154"/>
<rect x="59" y="175" width="7" height="13"/>
<rect x="64" y="176" width="1" height="11" fill="#fff"/>
<rect x="60" y="181" width="4" height="1" fill="#fff"/>
<rect x="60" y="186" width="5" height="1" fill="#fff"/>
<rect x="83" y="174" width="34" height="17" rx="4"/>
<polygon points="86,177.5 83,177.5 69.4,180 66,180 66,182 69.4,182 83,184.5 86,184.5"/>
<rect x="85" y="176" width="30" height="12" rx="2" fill="#fff"/>
<polygon points="86,179 72.8,181 86,183" fill="#fff"/>
<use href="#g74" x="88" y="176"/><use href="#g51" x="95" y="176"/><use href="#g53" x="103" y="176"/>
<rect x="59" y="199" width="7" height="26"/>
<rect x="64" y="200" width="1" height="24" fill="#fff"/>
<rect x="60" y="200" width="5" height="1" fill="#fff"/>
<rect x="60" y="206" width="5" height="1" fill="#fff"/>
<rect x="60" y="213" width="5" height="1" fill="#fff"/>
<rect x="60" y="219" width="5" height="1" fill="#fff"/>
<rect x="60" y="223" width="5" height="1" fill="#fff"/>
<rect x="60" y="200" width="1" height="6" fill="#fff"/>
<rect x="62" y="202" width="1" height="3" fill="#fff"/>
<rect x="8" y="204" width="36" height="19" rx="4"/>
<polygon points="41,209.5 44,209.5 56,212 59,212 59,214 56,214 44,216.5 41,216.5"/>
<rect x="10" y="206" width="32" height="14" rx="2" fill="#fff"/>
<polygon points="41,211 53,213 41,215" fill="#fff"/>
<use href="#g74" x="14" y="207"/><use href="#g51" x="21" y="207"/><use href="#g54" x="29" y="207"/>
<rect x="59" y="234" width="7" height="31"/>
<rect x="60" y="235" width="5" height="1" fill="#fff"/>
<rect x="60" y="241" width="5" height="1" fill="#fff"/>
<rect x="60" y="246" width="5" height="1" fill="#fff"/>
<rect x="60" y="247" width="5" height="1" fill="#fff"/>
<rect x="60" y="252" width="5" height="1" fill="#fff"/>
<rect x="60" y="258" width="5" height="1" fill="#fff"/>
<rect x="61" y="237" width="3" height="3" fill="#fff"/>
<rect x="62" y="238" width="1" height="1"/>
<rect x="8" y="242" width="35" height="18" rx="4"/>
<polygon points="40,246.5 43,246.5 55.8,249 59,249 59,251 55.8,251 43,253.5 40,253.5"/>
<rect x="10" y="244" width="31" height="13" rx="2" fill="#fff"/>
<polygon points="40,248 52.6,250 40,252" fill="#fff"/>
<use href="#g74" x="14" y="245"/><use href="#g51" x="21" y="245"/><use href="#g55" x="29" y="245"/>
<rect x="59" y="273" width="7" height="13"/>
<rect x="60" y="274" width="5" height="1" fill="#fff"/>
<rect x="60" y="279" width="5" height="1" fill="#fff"/>
<rect x="8" y="270" width="33" height="18" rx="4"/>
<polygon points="38,275.5 41,275.5 55.4,278 59,278 59,280 55.4,280 41,282.5 38,282.5"/>
<rect x="10" y="272" width="29" height="13" rx="2" fill="#fff"/>
<polygon points="38,277 51.8,279 38,281" fill="#fff"/>
<use href="#g74" x="13" y="273"/><use href="#g51" x="20" y="273"/><use href="#g56" x="28" y="273"/>
<rect x="89" y="216" width="131" height="134"/>
<rect x="98" y="212" width="28" height="4"/>
<rect x="99" y="213" width="26" height="2" fill="#fff"/>
<rect x="101" y="210" width="6" height="2"/>
<rect x="109" y="210" width="13" height="2"/>
<rect x="198" y="212" width="29" height="4"/>
<rect x="199" y="213" width="27" height="2" fill="#fff"/>
<rect x="202" y="210" width="13" height="2"/>
<rect x="217" y="210" width="6" height="2"/>
<path fill="#fff" d="M95 225h3v1h-3zM96 224h1v3h-1zM101 225h3v1h-3zM102 224h1v3h-1zM107 225h3v1h-3zM108 224h1v3h-1zM113 225h3v1h-3zM114 224h1v3h-1zM118 225h3v1h-3zM119 224h1v3h-1zM124 225h3v1h-3zM125 224h1v3h-1zM130 225h3v1h-3zM131 224h1v3h-1zM136 225h3v1h-3zM137 224h1v3h-1zM142 225h3v1h-3zM143 224h1v3h-1zM148 225h3v1h-3zM149 224h1v3h-1zM154 225h3v1h-3zM155 224h1v3h-1zM160 225h3v1h-3zM161 224h1v3h-1zM165 225h3v1h-3zM166 224h1v3h-1zM171 225h3v1h-3zM172 224h1v3h-1zM177 225h3v1h-3zM178 224h1v3h-1zM183 225h3v1h-3zM184 224h1v3h-1zM189 225h3v1h-3zM190 224h1v3h-1zM195 225h3v1h-3zM196 224h1v3h-1zM201 225h3v1h-3zM202 224h1v3h-1zM207 225h3v1h-3zM208 224h1v3h-1zM213 225h3v1h-3zM214 224h1v3h-1zM95 231h3v1h-3zM96 230h1v3h-1zM101 231h3v1h-3zM102 230h1v3h-1zM107 231h3v1h-3zM108 230h1v3h-1zM113 231h3v1h-3zM114 230h1v3h-1zM118 231h3v1h-3zM119 230h1v3h-1zM124 231h3v1h-3zM125 230h1v3h-1zM130 231h3v1h-3zM131 230h1v3h-1zM136 231h3v1h-3zM137 230h1v3h-1zM142 231h3v1h-3zM143 230h1v3h-1zM148 231h3v1h-3zM149 230h1v3h-1zM154 231h3v1h-3zM155 230h1v3h-1zM160 231h3v1h-3zM161 230h1v3h-1zM165 231h3v1h-3zM166 230h1v3h-1zM171 231h3v1h-3zM172 230h1v3h-1zM177 231h3v1h-3zM178 230h1v3h-1zM183 231h3v1h-3zM184 230h1v3h-1zM189 231h3v1h-3zM190 230h1v3h-1zM195 231h3v1h-3zM196 230h1v3h-1zM201 231h3v1h-3zM202 230h1v3h-1zM207 231h3v1h-3zM208 230h1v3h-1zM213 231h3v1h-3zM214 230h1v3h-1zM95 237h3v1h-3zM96 236h1v3h-1zM101 237h3v1h-3zM102 236h1v3h-1zM107 237h3v1h-3zM108 236h1v3h-1zM113 237h3v1h-3zM114 236h1v3h-1zM118 237h3v1h-3zM119 236h1v3h-1zM124 237h3v1h-3zM125 236h1v3h-1zM130 237h3v1h-3zM131 236h1v3h-1zM136 237h3v1h-3zM137 236h1v3h-1zM142 237h3v1h-3zM143 236h1v3h-1zM148 237h3v1h-3zM149 236h1v3h-1zM154 237h3v1h-3zM155 236h1v3h-1zM160 237h3v1h-3zM161 236h1v3h-1zM165 237h3v1h-3zM166 236h1v3h-1zM171 237h3v1h-3zM172 236h1v3h-1zM177 237h3v1h-3zM178 236h1v3h-1zM183 237h3v1h-3zM184 236h1v3h-1zM189 237h3v1h-3zM190 236h1v3h-1zM195 237h3v1h-3zM196 236h1v3h-1zM201 237h3v1h-3zM202 236h1v3h-1zM207 237h3v1h-3zM208 236h1v3h-1zM213 237h3v1h-3zM214 236h1v3h-1zM95 243h3v1h-3zM96 242h1v3h-1zM101 243h3v1h-3zM102 242h1v3h-1zM107 243h3v1h-3zM108 242h1v3h-1zM113 243h3v1h-3zM114 242h1v3h-1zM118 243h3v1h-3zM119 242h1v3h-1zM124 243h3v1h-3zM125 242h1v3h-1zM130 243h3v1h-3zM131 242h1v3h-1zM136 243h3v1h-3zM137 242h1v3h-1zM142 243h3v1h-3zM143 242h1v3h-1zM148 243h3v1h-3zM149 242h1v3h-1zM154 243h3v1h-3zM155 242h1v3h-1zM160 243h3v1h-3zM161 242h1v3h-1zM165 243h3v1h-3zM166 242h1v3h-1zM171 243h3v1h-3zM172 242h1v3h-1zM177 243h3v1h-3zM178 242h1v3h-1zM183 243h3v1h-3zM184 242h1v3h-1zM189 243h3v1h-3zM190 242h1v3h-1zM195 243h3v1h-3zM196 242h1v3h-1zM201 243h3v1h-3zM202 242h1v3h-1zM207 243h3v1h-3zM208 242h1v3h-1zM213 243h3v1h-3zM214 242h1v3h-1zM95 249h3v1h-3zM96 248h1v3h-1zM101 249h3v1h-3zM102 248h1v3h-1zM107 249h3v1h-3zM108 248h1v3h-1zM113 249h3v1h-3zM114 248h1v3h-1zM195 249h3v1h-3zM196 248h1v3h-1zM201 249h3v1h-3zM202 248h1v3h-1zM207 249h3v1h-3zM208 248h1v3h-1zM213 249h3v1h-3zM214 248h1v3h-1zM95 255h3v1h-3zM96 254h1v3h-1zM101 255h3v1h-3zM102 254h1v3h-1zM107 255h3v1h-3zM108 254h1v3h-1zM113 255h3v1h-3zM114 254h1v3h-1zM195 255h3v1h-3zM196 254h1v3h-1zM201 255h3v1h-3zM202 254h1v3h-1zM207 255h3v1h-3zM208 254h1v3h-1zM213 255h3v1h-3zM214 254h1v3h-1zM95 261h3v1h-3zM96 260h1v3h-1zM101 261h3v1h-3zM102 260h1v3h-1zM107 261h3v1h-3zM108 260h1v3h-1zM113 261h3v1h-3zM114 260h1v3h-1zM195 261h3v1h-3zM196 260h1v3h-1zM201 261h3v1h-3zM202 260h1v3h-1zM207 261h3v1h-3zM208 260h1v3h-1zM213 261h3v1h-3zM214 260h1v3h-1zM95 267h3v1h-3zM96 266h1v3h-1zM101 267h3v1h-3zM102 266h1v3h-1zM107 267h3v1h-3zM108 266h1v3h-1zM113 267h3v1h-3zM114 266h1v3h-1zM195 267h3v1h-3zM196 266h1v3h-1zM201 267h3v1h-3zM202 266h1v3h-1zM207 267h3v1h-3zM208 266h1v3h-1zM213 267h3v1h-3zM214 266h1v3h-1zM95 273h3v1h-3zM96 272h1v3h-1zM101 273h3v1h-3zM102 272h1v3h-1zM107 273h3v1h-3zM108 272h1v3h-1zM113 273h3v1h-3zM114 272h1v3h-1zM195 273h3v1h-3zM196 272h1v3h-1zM201 273h3v1h-3zM202 272h1v3h-1zM207 273h3v1h-3zM208 272h1v3h-1zM213 273h3v1h-3zM214 272h1v3h-1zM95 279h3v1h-3zM96 278h1v3h-1zM101 279h3v1h-3zM102 278h1v3h-1zM107 279h3v1h-3zM108 278h1v3h-1zM113 279h3v1h-3zM114 278h1v3h-1zM195 279h3v1h-3zM196 278h1v3h-1zM201 279h3v1h-3zM202 278h1v3h-1zM207 279h3v1h-3zM208 278h1v3h-1zM213 279h3v1h-3zM214 278h1v3h-1zM95 285h3v1h-3zM96 284h1v3h-1zM101 285h3v1h-3zM102 284h1v3h-1zM107 285h3v1h-3zM108 284h1v3h-1zM113 285h3v1h-3zM114 284h1v3h-1zM195 285h3v1h-3zM196 284h1v3h-1zM201 285h3v1h-3zM202 284h1v3h-1zM207 285h3v1h-3zM208 284h1v3h-1zM213 285h3v1h-3zM214 284h1v3h-1zM95 291h3v1h-3zM96 290h1v3h-1zM101 291h3v1h-3zM102 290h1v3h-1zM107 291h3v1h-3zM108 290h1v3h-1zM113 291h3v1h-3zM114 290h1v3h-1zM195 291h3v1h-3zM196 290h1v3h-1zM201 291h3v1h-3zM202 290h1v3h-1zM207 291h3v1h-3zM208 290h1v3h-1zM213 291h3v1h-3zM214 290h1v3h-1zM95 297h3v1h-3zM96 296h1v3h-1zM101 297h3v1h-3zM102 296h1v3h-1zM107 297h3v1h-3zM108 296h1v3h-1zM113 297h3v1h-3zM114 296h1v3h-1zM195 297h3v1h-3zM196 296h1v3h-1zM201 297h3v1h-3zM202 296h1v3h-1zM207 297h3v1h-3zM208 296h1v3h-1zM213 297h3v1h-3zM214 296h1v3h-1zM95 302h3v1h-3zM96 301h1v3h-1zM101 302h3v1h-3zM102 301h1v3h-1zM107 302h3v1h-3zM108 301h1v3h-1zM113 302h3v1h-3zM114 301h1v3h-1zM195 302h3v1h-3zM196 301h1v3h-1zM201 302h3v1h-3zM202 301h1v3h-1zM207 302h3v1h-3zM208 301h1v3h-1zM213 302h3v1h-3zM214 301h1v3h-1zM95 308h3v1h-3zM96 307h1v3h-1zM101 308h3v1h-3zM102 307h1v3h-1zM107 308h3v1h-3zM108 307h1v3h-1zM113 308h3v1h-3zM114 307h1v3h-1zM195 308h3v1h-3zM196 307h1v3h-1zM201 308h3v1h-3zM202 307h1v3h-1zM207 308h3v1h-3zM208 307h1v3h-1zM213 308h3v1h-3zM214 307h1v3h-1zM95 313h3v1h-3zM96 312h1v3h-1zM101 313h3v1h-3zM102 312h1v3h-1zM107 313h3v1h-3zM108 312h1v3h-1zM113 313h3v1h-3zM114 312h1v3h-1zM195 313h3v1h-3zM196 312h1v3h-1zM201 313h3v1h-3zM202 312h1v3h-1zM207 313h3v1h-3zM208 312h1v3h-1zM213 313h3v1h-3zM214 312h1v3h-1zM95 319h3v1h-3zM96 318h1v3h-1zM101 319h3v1h-3zM102 318h1v3h-1zM107 319h3v1h-3zM108 318h1v3h-1zM113 319h3v1h-3zM114 318h1v3h-1zM195 319h3v1h-3zM196 318h1v3h-1zM201 319h3v1h-3zM202 318h1v3h-1zM207 319h3v1h-3zM208 318h1v3h-1zM213 319h3v1h-3zM214 318h1v3h-1zM95 325h3v1h-3zM96 324h1v3h-1zM101 325h3v1h-3zM102 324h1v3h-1zM107 325h3v1h-3zM108 324h1v3h-1zM113 325h3v1h-3zM114 324h1v3h-1zM118 325h3v1h-3zM119 324h1v3h-1zM124 325h3v1h-3zM125 324h1v3h-1zM130 325h3v1h-3zM131 324h1v3h-1zM136 325h3v1h-3zM137 324h1v3h-1zM142 325h3v1h-3zM143 324h1v3h-1zM148 325h3v1h-3zM149 324h1v3h-1zM154 325h3v1h-3zM155 324h1v3h-1zM160 325h3v1h-3zM161 324h1v3h-1zM165 325h3v1h-3zM166 324h1v3h-1zM171 325h3v1h-3zM172 324h1v3h-1zM177 325h3v1h-3zM178 324h1v3h-1zM183 325h3v1h-3zM184 324h1v3h-1zM189 325h3v1h-3zM190 324h1v3h-1zM195 325h3v1h-3zM196 324h1v3h-1zM201 325h3v1h-3zM202 324h1v3h-1zM207 325h3v1h-3zM208 324h1v3h-1zM213 325h3v1h-3zM214 324h1v3h-1zM95 331h3v1h-3zM96 330h1v3h-1zM101 331h3v1h-3zM102 330h1v3h-1zM107 331h3v1h-3zM108 330h1v3h-1zM113 331h3v1h-3zM114 330h1v3h-1zM118 331h3v1h-3zM119 330h1v3h-1zM124 331h3v1h-3zM125 330h1v3h-1zM130 331h3v1h-3zM131 330h1v3h-1zM136 331h3v1h-3zM137 330h1v3h-1zM142 331h3v1h-3zM143 330h1v3h-1zM148 331h3v1h-3zM149 330h1v3h-1zM154 331h3v1h-3zM155 330h1v3h-1zM160 331h3v1h-3zM161 330h1v3h-1zM165 331h3v1h-3zM166 330h1v3h-1zM171 331h3v1h-3zM172 330h1v3h-1zM177 331h3v1h-3zM178 330h1v3h-1zM183 331h3v1h-3zM184 330h1v3h-1zM189 331h3v1h-3zM190 330h1v3h-1zM195 331h3v1h-3zM196 330h1v3h-1zM201 331h3v1h-3zM202 330h1v3h-1zM207 331h3v1h-3zM208 330h1v3h-1zM213 331h3v1h-3zM214 330h1v3h-1zM95 336h3v1h-3zM96 335h1v3h-1zM101 336h3v1h-3zM102 335h1v3h-1zM107 336h3v1h-3zM108 335h1v3h-1zM113 336h3v1h-3zM114 335h1v3h-1zM118 336h3v1h-3zM119 335h1v3h-1zM124 336h3v1h-3zM125 335h1v3h-1zM130 336h3v1h-3zM131 335h1v3h-1zM136 336h3v1h-3zM137 335h1v3h-1zM142 336h3v1h-3zM143 335h1v3h-1zM148 336h3v1h-3zM149 335h1v3h-1zM154 336h3v1h-3zM155 335h1v3h-1zM160 336h3v1h-3zM161 335h1v3h-1zM165 336h3v1h-3zM166 335h1v3h-1zM171 336h3v1h-3zM172 335h1v3h-1zM177 336h3v1h-3zM178 335h1v3h-1zM183 336h3v1h-3zM184 335h1v3h-1zM189 336h3v1h-3zM190 335h1v3h-1zM195 336h3v1h-3zM196 335h1v3h-1zM201 336h3v1h-3zM202 335h1v3h-1zM207 336h3v1h-3zM208 335h1v3h-1zM213 336h3v1h-3zM214 335h1v3h-1zM95 342h3v1h-3zM96 341h1v3h-1zM101 342h3v1h-3zM102 341h1v3h-1zM107 342h3v1h-3zM108 341h1v3h-1zM113 342h3v1h-3zM114 341h1v3h-1zM118 342h3v1h-3zM119 341h1v3h-1zM124 342h3v1h-3zM125 341h1v3h-1zM130 342h3v1h-3zM131 341h1v3h-1zM136 342h3v1h-3zM137 341h1v3h-1zM142 342h3v1h-3zM143 341h1v3h-1zM148 342h3v1h-3zM149 341h1v3h-1zM154 342h3v1h-3zM155 341h1v3h-1zM160 342h3v1h-3zM161 341h1v3h-1zM165 342h3v1h-3zM166 341h1v3h-1zM171 342h3v1h-3zM172 341h1v3h-1zM177 342h3v1h-3zM178 341h1v3h-1zM183 342h3v1h-3zM184 341h1v3h-1zM189 342h3v1h-3zM190 341h1v3h-1zM195 342h3v1h-3zM196 341h1v3h-1zM201 342h3v1h-3zM202 341h1v3h-1zM207 342h3v1h-3zM208 341h1v3h-1zM213 342h3v1h-3zM214 341h1v3h-1z"/>
<rect x="121" y="248" width="69" height="69" fill="#fff"/>
<rect x="138" y="273" width="34" height="20" rx="4"/>
<rect x="140" y="275" width="30" height="15" rx="2" fill="#fff"/>
<use href="#g67" x="142" y="277"/><use href="#g80" x="153" y="277"/><use href="#g85" x="162" y="277"/>
<rect x="220" y="216" width="25" height="134"/>
<rect x="220" y="216" width="1" height="131" fill="#fff"/>
<rect x="223" y="216" width="1" height="131" fill="#fff"/>
<rect x="242" y="216" width="1" height="131" fill="#fff"/>
<rect x="226" y="261" width="7" height="32" fill="#fff"/>
<rect x="234" y="262" width="5" height="31" fill="#fff"/>
<g fill="none" stroke="#fff" stroke-width="1"><polyline points="227.5,228.5 236.5,228.5"/><polyline points="227.5,228.5 227.5,223.5 229.5,221.5 230.5,221.5 232.5,223.5 232.5,228.5"/><polyline points="227.5,232.5 236.5,232.5"/><polyline points="227.5,242.5 236.5,242.5"/><polyline points="228.5,233.5 236.5,237.5 228.5,241.5"/><polyline points="236.5,245.5 227.5,250.5 237.5,256.5"/><polyline points="232.5,247.5 232.5,253.5"/></g>
<rect x="245" y="216" width="1" height="131" fill="#fff"/>
<rect x="105" y="350" width="130" height="11"/>
<rect x="106" y="351" width="128" height="9" fill="#fff"/>
<rect x="101" y="349" width="5" height="6"/>
<rect x="281" y="138" width="7" height="14"/>
<rect x="282" y="139" width="5" height="1" fill="#fff"/>
<rect x="282" y="145" width="5" height="1" fill="#fff"/>
<rect x="282" y="150" width="5" height="1" fill="#fff"/>
<rect x="268" y="103" width="34" height="18" rx="4"/>
<polygon points="281.5,118 281.5,121 284,134.6 284,138 286,138 286,134.6 288.5,121 288.5,118"/>
<rect x="270" y="105" width="30" height="13" rx="2" fill="#fff"/>
<polygon points="283,117 285,131.2 287,117" fill="#fff"/>
<use href="#g74" x="273" y="106"/><use href="#g50" x="280" y="106"/><use href="#g57" x="288" y="106"/>
<rect x="335" y="188" width="7" height="20"/>
<rect x="340" y="189" width="1" height="18" fill="#fff"/>
<rect x="336" y="189" width="5" height="1" fill="#fff"/>
<rect x="336" y="195" width="5" height="1" fill="#fff"/>
<rect x="336" y="201" width="5" height="1" fill="#fff"/>
<rect x="336" y="206" width="5" height="1" fill="#fff"/>
<rect x="337" y="191" width="2" height="3" fill="#fff"/>
<rect x="357" y="189" width="35" height="17" rx="4"/>
<polygon points="360,192.5 357,192.5 345,195 342,195 342,197 345,197 357,199.5 360,199.5"/>
<rect x="359" y="191" width="31" height="12" rx="2" fill="#fff"/>
<polygon points="360,194 348,196 360,198" fill="#fff"/>
<use href="#g74" x="363" y="191"/><use href="#g51" x="370" y="191"/><use href="#g48" x="378" y="191"/>
<rect x="259" y="191" width="6" height="31"/>
<rect x="260" y="192" width="4" height="1" fill="#fff"/>
<rect x="260" y="199" width="4" height="1" fill="#fff"/>
<rect x="260" y="203" width="4" height="1" fill="#fff"/>
<rect x="260" y="209" width="4" height="1" fill="#fff"/>
<rect x="260" y="214" width="4" height="1" fill="#fff"/>
<rect x="260" y="215" width="4" height="1" fill="#fff"/>
<rect x="260" y="219" width="4" height="1" fill="#fff"/>
<rect x="260" y="194" width="4" height="2" fill="#fff"/>
<rect x="261" y="194" width="2" height="1"/>
<rect x="279" y="199" width="36" height="17" rx="4"/>
<polygon points="282,203.5 279,203.5 267.8,206 265,206 265,208 267.8,208 279,210.5 282,210.5"/>
<rect x="281" y="201" width="32" height="12" rx="2" fill="#fff"/>
<polygon points="282,205 270.6,207 282,209" fill="#fff"/>
<use href="#g74" x="285" y="201"/><use href="#g51" x="292" y="201"/><use href="#g49" x="300" y="201"/>
<rect x="456" y="288" width="25" height="26"/>
<rect x="457" y="289" width="5" height="1" fill="#fff"/>
<rect x="457" y="294" width="5" height="2" fill="#fff"/>
<rect x="457" y="300" width="5" height="1" fill="#fff"/>
<rect x="457" y="306" width="5" height="1" fill="#fff"/>
<rect x="457" y="312" width="5" height="1" fill="#fff"/>
<rect x="458" y="291" width="3" height="2" fill="#fff"/>
<rect x="459" y="291" width="1" height="1"/>
<rect x="463" y="289" width="5" height="1" fill="#fff"/>
<rect x="463" y="294" width="5" height="2" fill="#fff"/>
<rect x="463" y="300" width="5" height="1" fill="#fff"/>
<rect x="463" y="306" width="5" height="1" fill="#fff"/>
<rect x="463" y="312" width="5" height="1" fill="#fff"/>
<rect x="464" y="291" width="3" height="2" fill="#fff"/>
<rect x="465" y="291" width="1" height="1"/>
<rect x="469" y="289" width="5" height="1" fill="#fff"/>
<rect x="469" y="294" width="5" height="2" fill="#fff"/>
<rect x="469" y="300" width="5" height="1" fill="#fff"/>
<rect x="469" y="306" width="5" height="1" fill="#fff"/>
<rect x="469" y="312" width="5" height="1" fill="#fff"/>
<rect x="470" y="291" width="3" height="2" fill="#fff"/>
<rect x="471" y="291" width="1" height="1"/>
<rect x="475" y="289" width="5" height="1" fill="#fff"/>
<rect x="475" y="294" width="5" height="2" fill="#fff"/>
<rect x="475" y="300" width="5" height="1" fill="#fff"/>
<rect x="475" y="306" width="5" height="1" fill="#fff"/>
<rect x="475" y="312" width="5" height="1" fill="#fff"/>
<rect x="476" y="291" width="3" height="2" fill="#fff"/>
<rect x="477" y="291" width="1" height="1"/>
<rect x="480" y="288" width="7" height="14"/>
<rect x="481" y="289" width="1" height="12" fill="#fff"/>
<rect x="481" y="289" width="5" height="1" fill="#fff"/>
<rect x="481" y="294" width="5" height="1" fill="#fff"/>
<rect x="481" y="300" width="5" height="1" fill="#fff"/>
<rect x="450" y="253" width="32" height="18" rx="4"/>
<polygon points="461.5,268 461.5,271 464,284.6 464,288 466,288 466,284.6 468.5,271 468.5,268"/>
<rect x="452" y="255" width="28" height="13" rx="2" fill="#fff"/>
<polygon points="463,267 465,281.2 467,267" fill="#fff"/>
<use href="#g87" x="453" y="256"/><use href="#g49" x="465" y="256"/><use href="#g54" x="472" y="256"/>
<rect x="494" y="266" width="33" height="16" rx="4"/>
<polygon points="495.325,276.899 498.892,281.724 490.701,286.037 484.773,290.045 483.227,287.955 488.799,283.463"/>
<rect x="496" y="268" width="29" height="11" rx="2" fill="#fff"/>
<polygon points="497.496,278.154 498.329,279.28 490.9,283.9" fill="#fff"/>
<use href="#g87" x="498" y="268"/><use href="#g49" x="510" y="268"/><use href="#g51" x="517" y="268"/>
<rect x="406" y="292" width="36" height="18" rx="4"/>
<polygon points="439,297.5 442,297.5 453.2,300 456,300 456,302 453.2,302 442,304.5 439,304.5"/>
<rect x="408" y="294" width="32" height="13" rx="2" fill="#fff"/>
<polygon points="439,299 450.4,301 439,303" fill="#fff"/>
<use href="#g87" x="411" y="295"/><use href="#g49" x="423" y="295"/><use href="#g55" x="430" y="295"/>
<rect x="488" y="319" width="33" height="17" rx="4"/>
<polygon points="492.871,319.221 489.384,324.104 483.32,318.052 478.244,314.058 479.756,311.942 485.18,315.448"/>
<rect x="490" y="321" width="29" height="12" rx="2" fill="#fff"/>
<polygon points="492.348,321.674 491.534,322.813 485.3,317.5" fill="#fff"/>
<use href="#g87" x="492" y="321"/><use href="#g49" x="504" y="321"/><use href="#g52" x="511" y="321"/>
<rect x="455" y="331" width="32" height="17" rx="4"/>
<polygon points="468.5,334 468.5,331 471,317.4 471,314 473,314 473,317.4 475.5,331 475.5,334"/>
<rect x="457" y="333" width="28" height="12" rx="2" fill="#fff"/>
<polygon points="470,335 472,320.8 474,335" fill="#fff"/>
<use href="#g87" x="458" y="333"/><use href="#g49" x="470" y="333"/><use href="#g53" x="477" y="333"/>
<rect x="400" y="315" width="7" height="14"/>
<rect x="401" y="316" width="1" height="12" fill="#fff"/>
<rect x="401" y="316" width="5" height="1" fill="#fff"/>
<rect x="401" y="322" width="5" height="1" fill="#fff"/>
<rect x="401" y="327" width="5" height="1" fill="#fff"/>
<rect x="411" y="315" width="7" height="14"/>
<rect x="412" y="316" width="5" height="1" fill="#fff"/>
<rect x="412" y="322" width="5" height="1" fill="#fff"/>
<rect x="412" y="327" width="5" height="1" fill="#fff"/>
<rect x="350" y="313" width="35" height="18" rx="4"/>
<polygon points="382,318.5 385,318.5 397,321 400,321 400,323 397,323 385,325.5 382,325.5"/>
<rect x="352" y="315" width="31" height="13" rx="2" fill="#fff"/>
<polygon points="382,320 394,322 382,324" fill="#fff"/>
<use href="#g87" x="355" y="316"/><use href="#g50" x="367" y="316"/><use href="#g50" x="374" y="316"/>
<rect x="398" y="346" width="32" height="17" rx="4"/>
<polygon points="410.5,349 410.5,346 413,332.4 413,329 415,329 415,332.4 417.5,346 417.5,349"/>
<rect x="400" y="348" width="28" height="12" rx="2" fill="#fff"/>
<polygon points="412,350 414,335.8 416,350" fill="#fff"/>
<use href="#g87" x="401" y="348"/><use href="#g50" x="413" y="348"/><use href="#g49" x="420" y="348"/>
<rect x="393" y="370" width="39" height="5"/>
<rect x="390" y="375" width="46" height="36"/>
<rect x="393" y="411" width="40" height="5"/>
<rect x="390" y="376" width="2" height="1" fill="#fff"/>
<rect x="434" y="376" width="2" height="1" fill="#fff"/>
<rect x="390" y="378" width="2" height="1" fill="#fff"/>
<rect x="434" y="378" width="2" height="1" fill="#fff"/>
<rect x="390" y="380" width="2" height="1" fill="#fff"/>
<rect x="434" y="380" width="2" height="1" fill="#fff"/>
<rect x="390" y="401" width="2" height="1" fill="#fff"/>
<rect x="434" y="401" width="2" height="1" fill="#fff"/>
<rect x="390" y="403" width="2" height="1" fill="#fff"/>
<rect x="434" y="403" width="2" height="1" fill="#fff"/>
<rect x="390" y="405" width="2" height="1" fill="#fff"/>
<rect x="434" y="405" width="2" height="1" fill="#fff"/>
<rect x="390" y="407" width="2" height="1" fill="#fff"/>
<rect x="434" y="407" width="2" height="1" fill="#fff"/>
<rect x="390" y="409" width="2" height="1" fill="#fff"/>
<rect x="434" y="409" width="2" height="1" fill="#fff"/>
<rect x="422" y="370" width="1" height="4" fill="#fff"/>
<rect x="427" y="370" width="2" height="4" fill="#fff"/>
<rect x="393" y="386" width="40" height="14" fill="#fff"/>
<use href="#g66" x="398" y="387"/><use href="#g73" x="406" y="387"/><use href="#g79" x="410" y="387"/><use href="#g83" x="421" y="387"/>
<rect x="541" y="410" width="7" height="14"/>
<rect x="542" y="411" width="5" height="1" fill="#fff"/>
<rect x="542" y="416" width="5" height="1" fill="#fff"/>
<rect x="542" y="422" width="5" height="1" fill="#fff"/>
<rect x="553" y="405" width="7" height="13"/>
<rect x="554" y="411" width="5" height="1" fill="#fff"/>
<rect x="547" y="404" width="7" height="20"/>
<rect x="552" y="405" width="1" height="18" fill="#fff"/>
<rect x="548" y="405" width="5" height="1" fill="#fff"/>
<rect x="548" y="411" width="5" height="1" fill="#fff"/>
<rect x="548" y="416" width="5" height="1" fill="#fff"/>
<rect x="548" y="422" width="5" height="1" fill="#fff"/>
<rect x="549" y="407" width="2" height="3" fill="#fff"/>
<rect x="535" y="371" width="32" height="18" rx="4"/>
<polygon points="546.5,386 546.5,389 549,401.8 549,405 551,405 551,401.8 553.5,389 553.5,386"/>
<rect x="537" y="373" width="28" height="13" rx="2" fill="#fff"/>
<polygon points="548,385 550,398.6 552,385" fill="#fff"/>
<use href="#g87" x="538" y="374"/><use href="#g49" x="550" y="374"/><use href="#g57" x="557" y="374"/>
<rect x="575" y="403" width="34" height="18" rx="4"/>
<polygon points="578,407.5 575,407.5 563.8,410 561,410 561,412 563.8,412 575,414.5 578,414.5"/>
<rect x="577" y="405" width="30" height="13" rx="2" fill="#fff"/>
<polygon points="578,409 566.6,411 578,413" fill="#fff"/>
<use href="#g87" x="579" y="406"/><use href="#g49" x="591" y="406"/><use href="#g56" x="598" y="406"/>
<rect x="527" y="440" width="33" height="17" rx="4"/>
<polygon points="541.5,443 541.5,440 544,427.2 544,424 546,424 546,427.2 548.5,440 548.5,443"/>
<rect x="529" y="442" width="29" height="12" rx="2" fill="#fff"/>
<polygon points="543,444 545,430.4 547,444" fill="#fff"/>
<use href="#g87" x="531" y="442"/><use href="#g50" x="543" y="442"/><use href="#g48" x="550" y="442"/>
<rect x="425" y="461" width="119" height="13"/>
<rect x="426" y="462" width="117" height="11" fill="#fff"/>
<rect x="427" y="463" width="115" height="10"/>
<rect x="427" y="467" width="115" height="1" fill="#fff"/>
<rect x="432" y="463" width="1" height="10" fill="#fff"/>
<rect x="438" y="463" width="1" height="10" fill="#fff"/>
<rect x="444" y="463" width="1" height="10" fill="#fff"/>
<rect x="450" y="463" width="1" height="10" fill="#fff"/>
<rect x="456" y="463" width="1" height="10" fill="#fff"/>
<rect x="461" y="463" width="1" height="10" fill="#fff"/>
<rect x="467" y="463" width="1" height="10" fill="#fff"/>
<rect x="473" y="463" width="1" height="10" fill="#fff"/>
<rect x="479" y="463" width="1" height="10" fill="#fff"/>
<rect x="485" y="463" width="1" height="10" fill="#fff"/>
<rect x="491" y="463" width="1" height="10" fill="#fff"/>
<rect x="497" y="463" width="1" height="10" fill="#fff"/>
<rect x="503" y="463" width="1" height="10" fill="#fff"/>
<rect x="509" y="463" width="1" height="10" fill="#fff"/>
<rect x="514" y="463" width="1" height="10" fill="#fff"/>
<rect x="520" y="463" width="1" height="10" fill="#fff"/>
<rect x="526" y="463" width="1" height="10" fill="#fff"/>
<rect x="532" y="463" width="1" height="10" fill="#fff"/>
<rect x="538" y="463" width="1" height="10" fill="#fff"/>
<rect x="538" y="464" width="3" height="2" fill="#fff"/>
<rect x="425" y="481" width="119" height="12"/>
<rect x="426" y="482" width="117" height="10" fill="#fff"/>
<rect x="427" y="483" width="115" height="9"/>
<rect x="427" y="487" width="115" height="1" fill="#fff"/>
<rect x="432" y="483" width="1" height="9" fill="#fff"/>
<rect x="438" y="483" width="1" height="9" fill="#fff"/>
<rect x="444" y="483" width="1" height="9" fill="#fff"/>
<rect x="450" y="483" width="1" height="9" fill="#fff"/>
<rect x="456" y="483" width="1" height="9" fill="#fff"/>
<rect x="461" y="483" width="1" height="9" fill="#fff"/>
<rect x="467" y="483" width="1" height="9" fill="#fff"/>
<rect x="473" y="483" width="1" height="9" fill="#fff"/>
<rect x="479" y="483" width="1" height="9" fill="#fff"/>
<rect x="485" y="483" width="1" height="9" fill="#fff"/>
<rect x="491" y="483" width="1" height="9" fill="#fff"/>
<rect x="497" y="483" width="1" height="9" fill="#fff"/>
<rect x="503" y="483" width="1" height="9" fill="#fff"/>
<rect x="509" y="483" width="1" height="9" fill="#fff"/>
<rect x="514" y="483" width="1" height="9" fill="#fff"/>
<rect x="520" y="483" width="1" height="9" fill="#fff"/>
<rect x="526" y="483" width="1" height="9" fill="#fff"/>
<rect x="532" y="483" width="1" height="9" fill="#fff"/>
<rect x="538" y="483" width="1" height="9" fill="#fff"/>
<rect x="538" y="484" width="3" height="2" fill="#fff"/>
<rect x="442" y="500" width="102" height="13"/>
<rect x="443" y="501" width="100" height="11" fill="#fff"/>
<rect x="444" y="502" width="98" height="10"/>
<rect x="444" y="506" width="98" height="1" fill="#fff"/>
<rect x="449" y="502" width="1" height="10" fill="#fff"/>
<rect x="455" y="502" width="1" height="10" fill="#fff"/>
<rect x="461" y="502" width="1" height="10" fill="#fff"/>
<rect x="467" y="502" width="1" height="10" fill="#fff"/>
<rect x="472" y="502" width="1" height="10" fill="#fff"/>
<rect x="478" y="502" width="1" height="10" fill="#fff"/>
<rect x="484" y="502" width="1" height="10" fill="#fff"/>
<rect x="490" y="502" width="1" height="10" fill="#fff"/>
<rect x="496" y="502" width="1" height="10" fill="#fff"/>
<rect x="502" y="502" width="1" height="10" fill="#fff"/>
<rect x="508" y="502" width="1" height="10" fill="#fff"/>
<rect x="514" y="502" width="1" height="10" fill="#fff"/>
<rect x="520" y="502" width="1" height="10" fill="#fff"/>
<rect x="526" y="502" width="1" height="10" fill="#fff"/>
<rect x="532" y="502" width="1" height="10" fill="#fff"/>
<rect x="537" y="502" width="1" height="10" fill="#fff"/>
<rect x="538" y="503" width="3" height="2" fill="#fff"/>
<rect x="549" y="500" width="78" height="13"/>
<rect x="550" y="501" width="76" height="11" fill="#fff"/>
<rect x="551" y="501" width="74" height="4"/>
<rect x="551" y="507" width="5" height="4"/>
<rect x="556" y="501" width="1" height="4" fill="#fff"/>
<rect x="557" y="507" width="4" height="4"/>
<rect x="562" y="501" width="1" height="4" fill="#fff"/>
<rect x="563" y="507" width="4" height="4"/>
<rect x="568" y="501" width="1" height="4" fill="#fff"/>
<rect x="569" y="507" width="4" height="4"/>
<rect x="574" y="501" width="1" height="4" fill="#fff"/>
<rect x="575" y="507" width="4" height="4"/>
<rect x="579" y="501" width="1" height="4" fill="#fff"/>
<rect x="580" y="507" width="5" height="4"/>
<rect x="585" y="501" width="1" height="4" fill="#fff"/>
<rect x="586" y="507" width="5" height="4"/>
<rect x="591" y="501" width="1" height="4" fill="#fff"/>
<rect x="592" y="507" width="5" height="4"/>
<rect x="597" y="501" width="1" height="4" fill="#fff"/>
<rect x="598" y="507" width="5" height="4"/>
<rect x="603" y="501" width="1" height="4" fill="#fff"/>
<rect x="604" y="507" width="5" height="4"/>
<rect x="609" y="501" width="1" height="4" fill="#fff"/>
<rect x="610" y="507" width="4" height="4"/>
<rect x="615" y="501" width="1" height="4" fill="#fff"/>
<rect x="616" y="507" width="4" height="4"/>
<rect x="621" y="501" width="1" height="4" fill="#fff"/>
<rect x="622" y="507" width="4" height="4"/>
<rect x="620" y="502" width="3" height="2" fill="#fff"/>
<rect x="466" y="428" width="34" height="17" rx="4"/>
<polygon points="478.5,442 478.5,445 481,457.8 481,461 483,461 483,457.8 485.5,445 485.5,442"/>
<rect x="468" y="430" width="30" height="12" rx="2" fill="#fff"/>
<polygon points="480,441 482,454.6 484,441" fill="#fff"/>
<use href="#g74" x="471" y="430"/><use href="#g49" x="478" y="430"/><use href="#g57" x="486" y="430"/>
<rect x="551" y="459" width="33" height="18" rx="4"/>
<polygon points="552.015,471.927 555.985,476.426 549.309,480.45 544.86,483.975 543.14,482.025 547.191,478.05"/>
<rect x="553" y="461" width="29" height="13" rx="2" fill="#fff"/>
<polygon points="554.286,472.99 555.213,474.04 549.1,478.5" fill="#fff"/>
<use href="#g74" x="556" y="462"/><use href="#g50" x="563" y="462"/><use href="#g48" x="571" y="462"/>
<rect x="391" y="497" width="36" height="19" rx="4"/>
<polygon points="424,502.5 427,502.5 439,505 442,505 442,507 439,507 427,509.5 424,509.5"/>
<rect x="393" y="499" width="32" height="14" rx="2" fill="#fff"/>
<polygon points="424,504 436,506 424,508" fill="#fff"/>
<use href="#g74" x="397" y="500"/><use href="#g50" x="404" y="500"/><use href="#g49" x="412" y="500"/>
<rect x="592" y="474" width="35" height="19" rx="4"/>
<polygon points="592.574,488.015 597.073,491.985 590.95,496.809 586.975,500.86 585.025,499.14 588.55,494.691"/>
<rect x="594" y="476" width="31" height="14" rx="2" fill="#fff"/>
<polygon points="594.96,488.787 596.01,489.714 590.5,494.9" fill="#fff"/>
<use href="#g74" x="598" y="477"/><use href="#g49" x="605" y="477"/><use href="#g56" x="613" y="477"/>
<rect x="633" y="489" width="114" height="24"/>
<rect x="634" y="490" width="112" height="22" fill="#fff"/>
<rect x="634" y="503" width="2" height="1"/>
<rect x="634" y="508" width="2" height="1"/>
<rect x="635" y="503" width="1" height="6"/>
<rect x="635" y="495" width="110" height="1"/>
<rect x="743" y="503" width="2" height="1"/>
<rect x="743" y="508" width="2" height="1"/>
<rect x="743" y="503" width="1" height="6"/>
<rect x="635" y="492" width="7" height="3"/>
<rect x="636" y="493" width="5" height="1" fill="#fff"/>
<rect x="635" y="499" width="7" height="2"/>
<rect x="639" y="502" width="7" height="8"/>
<rect x="640" y="503" width="5" height="6" fill="#fff"/>
<rect x="644" y="492" width="7" height="3"/>
<rect x="645" y="493" width="5" height="1" fill="#fff"/>
<rect x="644" y="499" width="7" height="2"/>
<rect x="648" y="502" width="7" height="8"/>
<rect x="649" y="503" width="5" height="6" fill="#fff"/>
<rect x="653" y="492" width="7" height="3"/>
<rect x="654" y="493" width="5" height="1" fill="#fff"/>
<rect x="653" y="499" width="7" height="2"/>
<rect x="657" y="502" width="7" height="8"/>
<rect x="658" y="503" width="5" height="6" fill="#fff"/>
<rect x="662" y="492" width="7" height="3"/>
<rect x="663" y="493" width="5" height="1" fill="#fff"/>
<rect x="662" y="499" width="7" height="2"/>
<rect x="666" y="502" width="7" height="8"/>
<rect x="667" y="503" width="5" height="6" fill="#fff"/>
<rect x="671" y="492" width="7" height="3"/>
<rect x="672" y="493" width="5" height="1" fill="#fff"/>
<rect x="671" y="499" width="7" height="2"/>
<rect x="675" y="502" width="7" height="8"/>
<rect x="676" y="503" width="5" height="6" fill="#fff"/>
<rect x="680" y="492" width="7" height="3"/>
<rect x="681" y="493" width="5" height="1" fill="#fff"/>
<rect x="680" y="499" width="7" height="2"/>
<rect x="684" y="502" width="7" height="8"/>
<rect x="685" y="503" width="5" height="6" fill="#fff"/>
<rect x="690" y="492" width="7" height="3"/>
<rect x="691" y="493" width="5" height="1" fill="#fff"/>
<rect x="690" y="499" width="7" height="2"/>
<rect x="694" y="502" width="7" height="8"/>
<rect x="695" y="503" width="5" height="6" fill="#fff"/>
<rect x="699" y="492" width="7" height="3"/>
<rect x="700" y="493" width="5" height="1" fill="#fff"/>
<rect x="699" y="499" width="7" height="2"/>
<rect x="703" y="502" width="7" height="8"/>
<rect x="704" y="503" width="5" height="6" fill="#fff"/>
<rect x="708" y="492" width="7" height="3"/>
<rect x="709" y="493" width="5" height="1" fill="#fff"/>
<rect x="708" y="499" width="7" height="2"/>
<rect x="712" y="502" width="7" height="8"/>
<rect x="713" y="503" width="5" height="6" fill="#fff"/>
<rect x="717" y="492" width="7" height="3"/>
<rect x="718" y="493" width="5" height="1" fill="#fff"/>
<rect x="717" y="499" width="7" height="2"/>
<rect x="721" y="502" width="7" height="8"/>
<rect x="722" y="503" width="5" height="6" fill="#fff"/>
<rect x="726" y="492" width="7" height="3"/>
<rect x="727" y="493" width="5" height="1" fill="#fff"/>
<rect x="726" y="499" width="7" height="2"/>
<rect x="730" y="502" width="7" height="8"/>
<rect x="731" y="503" width="5" height="6" fill="#fff"/>
<rect x="735" y="492" width="7" height="3"/>
<rect x="736" y="493" width="5" height="1" fill="#fff"/>
<rect x="735" y="499" width="7" height="2"/>
<rect x="739" y="502" width="7" height="8"/>
<rect x="740" y="503" width="5" height="6" fill="#fff"/>
<rect x="287" y="446" width="8" height="14"/>
<rect x="288" y="447" width="6" height="12" fill="#fff"/>
<rect x="289" y="448" width="4" height="10"/>
<rect x="289" y="452" width="4" height="1" fill="#fff"/>
<rect x="300" y="446" width="7" height="14"/>
<rect x="301" y="447" width="5" height="1" fill="#fff"/>
<rect x="301" y="452" width="5" height="1" fill="#fff"/>
<rect x="301" y="458" width="5" height="1" fill="#fff"/>
<rect x="312" y="446" width="7" height="14"/>
<rect x="313" y="447" width="5" height="1" fill="#fff"/>
<rect x="313" y="452" width="5" height="1" fill="#fff"/>
<rect x="313" y="458" width="5" height="1" fill="#fff"/>
<rect x="289" y="412" width="33" height="18" rx="4"/>
<polygon points="299.5,427 299.5,430 302,442.8 302,446 304,446 304,442.8 306.5,430 306.5,427"/>
<rect x="291" y="414" width="29" height="13" rx="2" fill="#fff"/>
<polygon points="301,426 303,439.6 305,426" fill="#fff"/>
<use href="#g87" x="293" y="415"/><use href="#g50" x="305" y="415"/><use href="#g54" x="312" y="415"/>
<rect x="326" y="426" width="33" height="18" rx="4"/>
<polygon points="328.023,438.933 330.592,444.355 323.435,446.196 318.557,448.175 317.443,445.825 322.065,443.304"/>
<rect x="328" y="428" width="29" height="13" rx="2" fill="#fff"/>
<polygon points="329.912,440.583 330.511,441.848 323.7,444.3" fill="#fff"/>
<use href="#g87" x="330" y="429"/><use href="#g50" x="342" y="429"/><use href="#g53" x="349" y="429"/>
<rect x="237" y="444" width="36" height="18" rx="4"/>
<polygon points="270,449.5 273,449.5 284.2,452 287,452 287,454 284.2,454 273,456.5 270,456.5"/>
<rect x="239" y="446" width="32" height="13" rx="2" fill="#fff"/>
<polygon points="270,451 281.4,453 270,455" fill="#fff"/>
<use href="#g87" x="242" y="447"/><use href="#g50" x="254" y="447"/><use href="#g55" x="261" y="447"/>
<rect x="364" y="497" width="7" height="13"/>
<rect x="365" y="498" width="5" height="1" fill="#fff"/>
<rect x="365" y="503" width="5" height="1" fill="#fff"/>
<rect x="372" y="497" width="7" height="13"/>
<rect x="373" y="498" width="5" height="1" fill="#fff"/>
<rect x="373" y="498" width="1" height="11" fill="#fff"/>
<rect x="373" y="503" width="5" height="1" fill="#fff"/>
<rect x="313" y="495" width="35" height="18" rx="4"/>
<polygon points="345,499.5 348,499.5 360.8,502 364,502 364,504 360.8,504 348,506.5 345,506.5"/>
<rect x="315" y="497" width="31" height="13" rx="2" fill="#fff"/>
<polygon points="345,501 357.6,503 345,505" fill="#fff"/>
<use href="#g87" x="318" y="498"/><use href="#g50" x="330" y="498"/><use href="#g52" x="337" y="498"/>
<rect x="386" y="470" width="35" height="19" rx="4"/>
<polygon points="386.574,484.015 391.073,487.985 384.95,492.809 380.975,496.86 379.025,495.14 382.55,490.691"/>
<rect x="388" y="472" width="31" height="14" rx="2" fill="#fff"/>
<polygon points="388.96,484.787 390.01,485.714 384.5,490.9" fill="#fff"/>
<use href="#g87" x="391" y="473"/><use href="#g50" x="403" y="473"/><use href="#g51" x="410" y="473"/>
<rect x="82" y="378" width="50" height="25"/>
<rect x="81" y="380" width="52" height="19"/>
<rect x="84" y="379" width="2" height="1" fill="#fff"/>
<rect x="84" y="400" width="2" height="2" fill="#fff"/>
<rect x="88" y="379" width="2" height="1" fill="#fff"/>
<rect x="88" y="400" width="2" height="2" fill="#fff"/>
<rect x="92" y="379" width="2" height="1" fill="#fff"/>
<rect x="92" y="400" width="2" height="2" fill="#fff"/>
<rect x="96" y="379" width="2" height="1" fill="#fff"/>
<rect x="96" y="400" width="2" height="2" fill="#fff"/>
<rect x="100" y="379" width="2" height="1" fill="#fff"/>
<rect x="100" y="400" width="2" height="2" fill="#fff"/>
<rect x="104" y="379" width="2" height="1" fill="#fff"/>
<rect x="104" y="400" width="2" height="2" fill="#fff"/>
<rect x="108" y="379" width="2" height="1" fill="#fff"/>
<rect x="108" y="400" width="2" height="2" fill="#fff"/>
<rect x="112" y="379" width="2" height="1" fill="#fff"/>
<rect x="112" y="400" width="2" height="2" fill="#fff"/>
<rect x="116" y="379" width="2" height="1" fill="#fff"/>
<rect x="116" y="400" width="2" height="2" fill="#fff"/>
<rect x="120" y="379" width="2" height="1" fill="#fff"/>
<rect x="120" y="400" width="2" height="2" fill="#fff"/>
<rect x="124" y="379" width="2" height="1" fill="#fff"/>
<rect x="124" y="400" width="2" height="2" fill="#fff"/>
<rect x="128" y="379" width="2" height="1" fill="#fff"/>
<rect x="128" y="400" width="2" height="2" fill="#fff"/>
<rect x="131" y="387" width="2" height="5" fill="#fff"/>
<rect x="130" y="388" width="1" height="3" fill="#fff"/>
<rect x="139" y="378" width="50" height="25"/>
<rect x="138" y="380" width="52" height="19"/>
<rect x="141" y="379" width="2" height="1" fill="#fff"/>
<rect x="141" y="400" width="2" height="2" fill="#fff"/>
<rect x="145" y="379" width="2" height="1" fill="#fff"/>
<rect x="145" y="400" width="2" height="2" fill="#fff"/>
<rect x="149" y="379" width="2" height="1" fill="#fff"/>
<rect x="149" y="400" width="2" height="2" fill="#fff"/>
<rect x="153" y="379" width="2" height="1" fill="#fff"/>
<rect x="153" y="400" width="2" height="2" fill="#fff"/>
<rect x="157" y="379" width="2" height="1" fill="#fff"/>
<rect x="157" y="400" width="2" height="2" fill="#fff"/>
<rect x="161" y="379" width="2" height="1" fill="#fff"/>
<rect x="161" y="400" width="2" height="2" fill="#fff"/>
<rect x="165" y="379" width="2" height="1" fill="#fff"/>
<rect x="165" y="400" width="2" height="2" fill="#fff"/>
<rect x="169" y="379" width="2" height="1" fill="#fff"/>
<rect x="169" y="400" width="2" height="2" fill="#fff"/>
<rect x="173" y="379" width="2" height="1" fill="#fff"/>
<rect x="173" y="400" width="2" height="2" fill="#fff"/>
<rect x="177" y="379" width="2" height="1" fill="#fff"/>
<rect x="177" y="400" width="2" height="2" fill="#fff"/>
<rect x="181" y="379" width="2" height="1" fill="#fff"/>
<rect x="181" y="400" width="2" height="2" fill="#fff"/>
<rect x="185" y="379" width="2" height="1" fill="#fff"/>
<rect x="185" y="400" width="2" height="2" fill="#fff"/>
<rect x="188" y="387" width="2" height="5" fill="#fff"/>
<rect x="187" y="388" width="1" height="3" fill="#fff"/>
<rect x="82" y="404" width="50" height="25"/>
<rect x="81" y="406" width="52" height="19"/>
<rect x="84" y="405" width="2" height="1" fill="#fff"/>
<rect x="84" y="426" width="2" height="2" fill="#fff"/>
<rect x="88" y="405" width="2" height="1" fill="#fff"/>
<rect x="88" y="426" width="2" height="2" fill="#fff"/>
<rect x="92" y="405" width="2" height="1" fill="#fff"/>
<rect x="92" y="426" width="2" height="2" fill="#fff"/>
<rect x="96" y="405" width="2" height="1" fill="#fff"/>
<rect x="96" y="426" width="2" height="2" fill="#fff"/>
<rect x="100" y="405" width="2" height="1" fill="#fff"/>
<rect x="100" y="426" width="2" height="2" fill="#fff"/>
<rect x="104" y="405" width="2" height="1" fill="#fff"/>
<rect x="104" y="426" width="2" height="2" fill="#fff"/>
<rect x="108" y="405" width="2" height="1" fill="#fff"/>
<rect x="108" y="426" width="2" height="2" fill="#fff"/>
<rect x="112" y="405" width="2" height="1" fill="#fff"/>
<rect x="112" y="426" width="2" height="2" fill="#fff"/>
<rect x="116" y="405" width="2" height="1" fill="#fff"/>
<rect x="116" y="426" width="2" height="2" fill="#fff"/>
<rect x="120" y="405" width="2" height="1" fill="#fff"/>
<rect x="120" y="426" width="2" height="2" fill="#fff"/>
<rect x="124" y="405" width="2" height="1" fill="#fff"/>
<rect x="124" y="426" width="2" height="2" fill="#fff"/>
<rect x="128" y="405" width="2" height="1" fill="#fff"/>
<rect x="128" y="426" width="2" height="2" fill="#fff"/>
<rect x="131" y="413" width="2" height="5" fill="#fff"/>
<rect x="130" y="414" width="1" height="3" fill="#fff"/>
<rect x="139" y="404" width="50" height="25"/>
<rect x="138" y="406" width="52" height="19"/>
<rect x="141" y="405" width="2" height="1" fill="#fff"/>
<rect x="141" y="426" width="2" height="2" fill="#fff"/>
<rect x="145" y="405" width="2" height="1" fill="#fff"/>
<rect x="145" y="426" width="2" height="2" fill="#fff"/>
<rect x="149" y="405" width="2" height="1" fill="#fff"/>
<rect x="149" y="426" width="2" height="2" fill="#fff"/>
<rect x="153" y="405" width="2" height="1" fill="#fff"/>
<rect x="153" y="426" width="2" height="2" fill="#fff"/>
<rect x="157" y="405" width="2" height="1" fill="#fff"/>
<rect x="157" y="426" width="2" height="2" fill="#fff"/>
<rect x="161" y="405" width="2" height="1" fill="#fff"/>
<rect x="161" y="426" width="2" height="2" fill="#fff"/>
<rect x="165" y="405" width="2" height="1" fill="#fff"/>
<rect x="165" y="426" width="2" height="2" fill="#fff"/>
<rect x="169" y="405" width="2" height="1" fill="#fff"/>
<rect x="169" y="426" width="2" height="2" fill="#fff"/>
<rect x="173" y="405" width="2" height="1" fill="#fff"/>
<rect x="173" y="426" width="2" height="2" fill="#fff"/>
<rect x="177" y="405" width="2" height="1" fill="#fff"/>
<rect x="177" y="426" width="2" height="2" fill="#fff"/>
<rect x="181" y="405" width="2" height="1" fill="#fff"/>
<rect x="181" y="426" width="2" height="2" fill="#fff"/>
<rect x="185" y="405" width="2" height="1" fill="#fff"/>
<rect x="185" y="426" width="2" height="2" fill="#fff"/>
<rect x="188" y="413" width="2" height="5" fill="#fff"/>
<rect x="187" y="414" width="1" height="3" fill="#fff"/>
<rect x="82" y="429" width="50" height="25"/>
<rect x="81" y="431" width="52" height="19"/>
<rect x="84" y="430" width="2" height="1" fill="#fff"/>
<rect x="84" y="451" width="2" height="2" fill="#fff"/>
<rect x="88" y="430" width="2" height="1" fill="#fff"/>
<rect x="88" y="451" width="2" height="2" fill="#fff"/>
<rect x="92" y="430" width="2" height="1" fill="#fff"/>
<rect x="92" y="451" width="2" height="2" fill="#fff"/>
<rect x="96" y="430" width="2" height="1" fill="#fff"/>
<rect x="96" y="451" width="2" height="2" fill="#fff"/>
<rect x="100" y="430" width="2" height="1" fill="#fff"/>
<rect x="100" y="451" width="2" height="2" fill="#fff"/>
<rect x="104" y="430" width="2" height="1" fill="#fff"/>
<rect x="104" y="451" width="2" height="2" fill="#fff"/>
<rect x="108" y="430" width="2" height="1" fill="#fff"/>
<rect x="108" y="451" width="2" height="2" fill="#fff"/>
<rect x="112" y="430" width="2" height="1" fill="#fff"/>
<rect x="112" y="451" width="2" height="2" fill="#fff"/>
<rect x="116" y="430" width="2" height="1" fill="#fff"/>
<rect x="116" y="451" width="2" height="2" fill="#fff"/>
<rect x="120" y="430" width="2" height="1" fill="#fff"/>
<rect x="120" y="451" width="2" height="2" fill="#fff"/>
<rect x="124" y="430" width="2" height="1" fill="#fff"/>
<rect x="124" y="451" width="2" height="2" fill="#fff"/>
<rect x="128" y="430" width="2" height="1" fill="#fff"/>
<rect x="128" y="451" width="2" height="2" fill="#fff"/>
<rect x="131" y="438" width="2" height="5" fill="#fff"/>
<rect x="130" y="439" width="1" height="3" fill="#fff"/>
<rect x="139" y="429" width="50" height="25"/>
<rect x="138" y="431" width="52" height="19"/>
<rect x="141" y="430" width="2" height="1" fill="#fff"/>
<rect x="141" y="451" width="2" height="2" fill="#fff"/>
<rect x="145" y="430" width="2" height="1" fill="#fff"/>
<rect x="145" y="451" width="2" height="2" fill="#fff"/>
<rect x="149" y="430" width="2" height="1" fill="#fff"/>
<rect x="149" y="451" width="2" height="2" fill="#fff"/>
<rect x="153" y="430" width="2" height="1" fill="#fff"/>
<rect x="153" y="451" width="2" height="2" fill="#fff"/>
<rect x="157" y="430" width="2" height="1" fill="#fff"/>
<rect x="157" y="451" width="2" height="2" fill="#fff"/>
<rect x="161" y="430" width="2" height="1" fill="#fff"/>
<rect x="161" y="451" width="2" height="2" fill="#fff"/>
<rect x="165" y="430" width="2" height="1" fill="#fff"/>
<rect x="165" y="451" width="2" height="2" fill="#fff"/>
<rect x="169" y="430" width="2" height="1" fill="#fff"/>
<rect x="169" y="451" width="2" height="2" fill="#fff"/>
<rect x="173" y="430" width="2" height="1" fill="#fff"/>
<rect x="173" y="451" width="2" height="2" fill="#fff"/>
<rect x="177" y="430" width="2" height="1" fill="#fff"/>
<rect x="177" y="451" width="2" height="2" fill="#fff"/>
<rect x="181" y="430" width="2" height="1" fill="#fff"/>
<rect x="181" y="451" width="2" height="2" fill="#fff"/>
<rect x="185" y="430" width="2" height="1" fill="#fff"/>
<rect x="185" y="451" width="2" height="2" fill="#fff"/>
<rect x="188" y="438" width="2" height="5" fill="#fff"/>
<rect x="187" y="439" width="1" height="3" fill="#fff"/>
<rect x="82" y="454" width="50" height="25"/>
<rect x="81" y="456" width="52" height="19"/>
<rect x="84" y="455" width="2" height="1" fill="#fff"/>
<rect x="84" y="476" width="2" height="2" fill="#fff"/>
<rect x="88" y="455" width="2" height="1" fill="#fff"/>
<rect x="88" y="476" width="2" height="2" fill="#fff"/>
<rect x="92" y="455" width="2" height="1" fill="#fff"/>
<rect x="92" y="476" width="2" height="2" fill="#fff"/>
<rect x="96" y="455" width="2" height="1" fill="#fff"/>
<rect x="96" y="476" width="2" height="2" fill="#fff"/>
<rect x="100" y="455" width="2" height="1" fill="#fff"/>
<rect x="100" y="476" width="2" height="2" fill="#fff"/>
<rect x="104" y="455" width="2" height="1" fill="#fff"/>
<rect x="104" y="476" width="2" height="2" fill="#fff"/>
<rect x="108" y="455" width="2" height="1" fill="#fff"/>
<rect x="108" y="476" width="2" height="2" fill="#fff"/>
<rect x="112" y="455" width="2" height="1" fill="#fff"/>
<rect x="112" y="476" width="2" height="2" fill="#fff"/>
<rect x="116" y="455" width="2" height="1" fill="#fff"/>
<rect x="116" y="476" width="2" height="2" fill="#fff"/>
<rect x="120" y="455" width="2" height="1" fill="#fff"/>
<rect x="120" y="476" width="2" height="2" fill="#fff"/>
<rect x="124" y="455" width="2" height="1" fill="#fff"/>
<rect x="124" y="476" width="2" height="2" fill="#fff"/>
<rect x="128" y="455" width="2" height="1" fill="#fff"/>
<rect x="128" y="476" width="2" height="2" fill="#fff"/>
<rect x="131" y="463" width="2" height="5" fill="#fff"/>
<rect x="130" y="464" width="1" height="3" fill="#fff"/>
<rect x="139" y="454" width="50" height="25"/>
<rect x="138" y="456" width="52" height="19"/>
<rect x="141" y="455" width="2" height="1" fill="#fff"/>
<rect x="141" y="476" width="2" height="2" fill="#fff"/>
<rect x="145" y="455" width="2" height="1" fill="#fff"/>
<rect x="145" y="476" width="2" height="2" fill="#fff"/>
<rect x="149" y="455" width="2" height="1" fill="#fff"/>
<rect x="149" y="476" width="2" height="2" fill="#fff"/>
<rect x="153" y="455" width="2" height="1" fill="#fff"/>
<rect x="153" y="476" width="2" height="2" fill="#fff"/>
<rect x="157" y="455" width="2" height="1" fill="#fff"/>
<rect x="157" y="476" width="2" height="2" fill="#fff"/>
<rect x="161" y="455" width="2" height="1" fill="#fff"/>
<rect x="161" y="476" width="2" height="2" fill="#fff"/>
<rect x="165" y="455" width="2" height="1" fill="#fff"/>
<rect x="165" y="476" width="2" height="2" fill="#fff"/>
<rect x="169" y="455" width="2" height="1" fill="#fff"/>
<rect x="169" y="476" width="2" height="2" fill="#fff"/>
<rect x="173" y="455" width="2" height="1" fill="#fff"/>
<rect x="173" y="476" width="2" height="2" fill="#fff"/>
<rect x="177" y="455" width="2" height="1" fill="#fff"/>
<rect x="177" y="476" width="2" height="2" fill="#fff"/>
<rect x="181" y="455" width="2" height="1" fill="#fff"/>
<rect x="181" y="476" width="2" height="2" fill="#fff"/>
<rect x="185" y="455" width="2" height="1" fill="#fff"/>
<rect x="185" y="476" width="2" height="2" fill="#fff"/>
<rect x="188" y="463" width="2" height="5" fill="#fff"/>
<rect x="187" y="464" width="1" height="3" fill="#fff"/>
<rect x="82" y="480" width="50" height="25"/>
<rect x="81" y="482" width="52" height="19"/>
<rect x="84" y="481" width="2" height="1" fill="#fff"/>
<rect x="84" y="502" width="2" height="2" fill="#fff"/>
<rect x="88" y="481" width="2" height="1" fill="#fff"/>
<rect x="88" y="502" width="2" height="2" fill="#fff"/>
<rect x="92" y="481" width="2" height="1" fill="#fff"/>
<rect x="92" y="502" width="2" height="2" fill="#fff"/>
<rect x="96" y="481" width="2" height="1" fill="#fff"/>
<rect x="96" y="502" width="2" height="2" fill="#fff"/>
<rect x="100" y="481" width="2" height="1" fill="#fff"/>
<rect x="100" y="502" width="2" height="2" fill="#fff"/>
<rect x="104" y="481" width="2" height="1" fill="#fff"/>
<rect x="104" y="502" width="2" height="2" fill="#fff"/>
<rect x="108" y="481" width="2" height="1" fill="#fff"/>
<rect x="108" y="502" width="2" height="2" fill="#fff"/>
<rect x="112" y="481" width="2" height="1" fill="#fff"/>
<rect x="112" y="502" width="2" height="2" fill="#fff"/>
<rect x="116" y="481" width="2" height="1" fill="#fff"/>
<rect x="116" y="502" width="2" height="2" fill="#fff"/>
<rect x="120" y="481" width="2" height="1" fill="#fff"/>
<rect x="120" y="502" width="2" height="2" fill="#fff"/>
<rect x="124" y="481" width="2" height="1" fill="#fff"/>
<rect x="124" y="502" width="2" height="2" fill="#fff"/>
<rect x="128" y="481" width="2" height="1" fill="#fff"/>
<rect x="128" y="502" width="2" height="2" fill="#fff"/>
<rect x="131" y="489" width="2" height="5" fill="#fff"/>
<rect x="130" y="490" width="1" height="3" fill="#fff"/>
<rect x="139" y="480" width="50" height="25"/>
<rect x="138" y="482" width="52" height="19"/>
<rect x="141" y="481" width="2" height="1" fill="#fff"/>
<rect x="141" y="502" width="2" height="2" fill="#fff"/>
<rect x="145" y="481" width="2" height="1" fill="#fff"/>
<rect x="145" y="502" width="2" height="2" fill="#fff"/>
<rect x="149" y="481" width="2" height="1" fill="#fff"/>
<rect x="149" y="502" width="2" height="2" fill="#fff"/>
<rect x="153" y="481" width="2" height="1" fill="#fff"/>
<rect x="153" y="502" width="2" height="2" fill="#fff"/>
<rect x="157" y="481" width="2" height="1" fill="#fff"/>
<rect x="157" y="502" width="2" height="2" fill="#fff"/>
<rect x="161" y="481" width="2" height="1" fill="#fff"/>
<rect x="161" y="502" width="2" height="2" fill="#fff"/>
<rect x="165" y="481" width="2" height="1" fill="#fff"/>
<rect x="165" y="502" width="2" height="2" fill="#fff"/>
<rect x="169" y="481" width="2" height="1" fill="#fff"/>
<rect x="169" y="502" width="2" height="2" fill="#fff"/>
<rect x="173" y="481" width="2" height="1" fill="#fff"/>
<rect x="173" y="502" width="2" height="2" fill="#fff"/>
<rect x="177" y="481" width="2" height="1" fill="#fff"/>
<rect x="177" y="502" width="2" height="2" fill="#fff"/>
<rect x="181" y="481" width="2" height="1" fill="#fff"/>
<rect x="181" y="502" width="2" height="2" fill="#fff"/>
<rect x="185" y="481" width="2" height="1" fill="#fff"/>
<rect x="185" y="502" width="2" height="2" fill="#fff"/>
<rect x="188" y="489" width="2" height="5" fill="#fff"/>
<rect x="187" y="490" width="1" height="3" fill="#fff"/>
<rect x="113" y="434" width="46" height="14" fill="#fff"/>
<use href="#g67" x="113" y="436"/><use href="#g65" x="123" y="436"/><use href="#g67" x="131" y="436"/><use href="#g72" x="142" y="436"/><use href="#g69" x="151" y="436"/>
</svg>
</body></html>
